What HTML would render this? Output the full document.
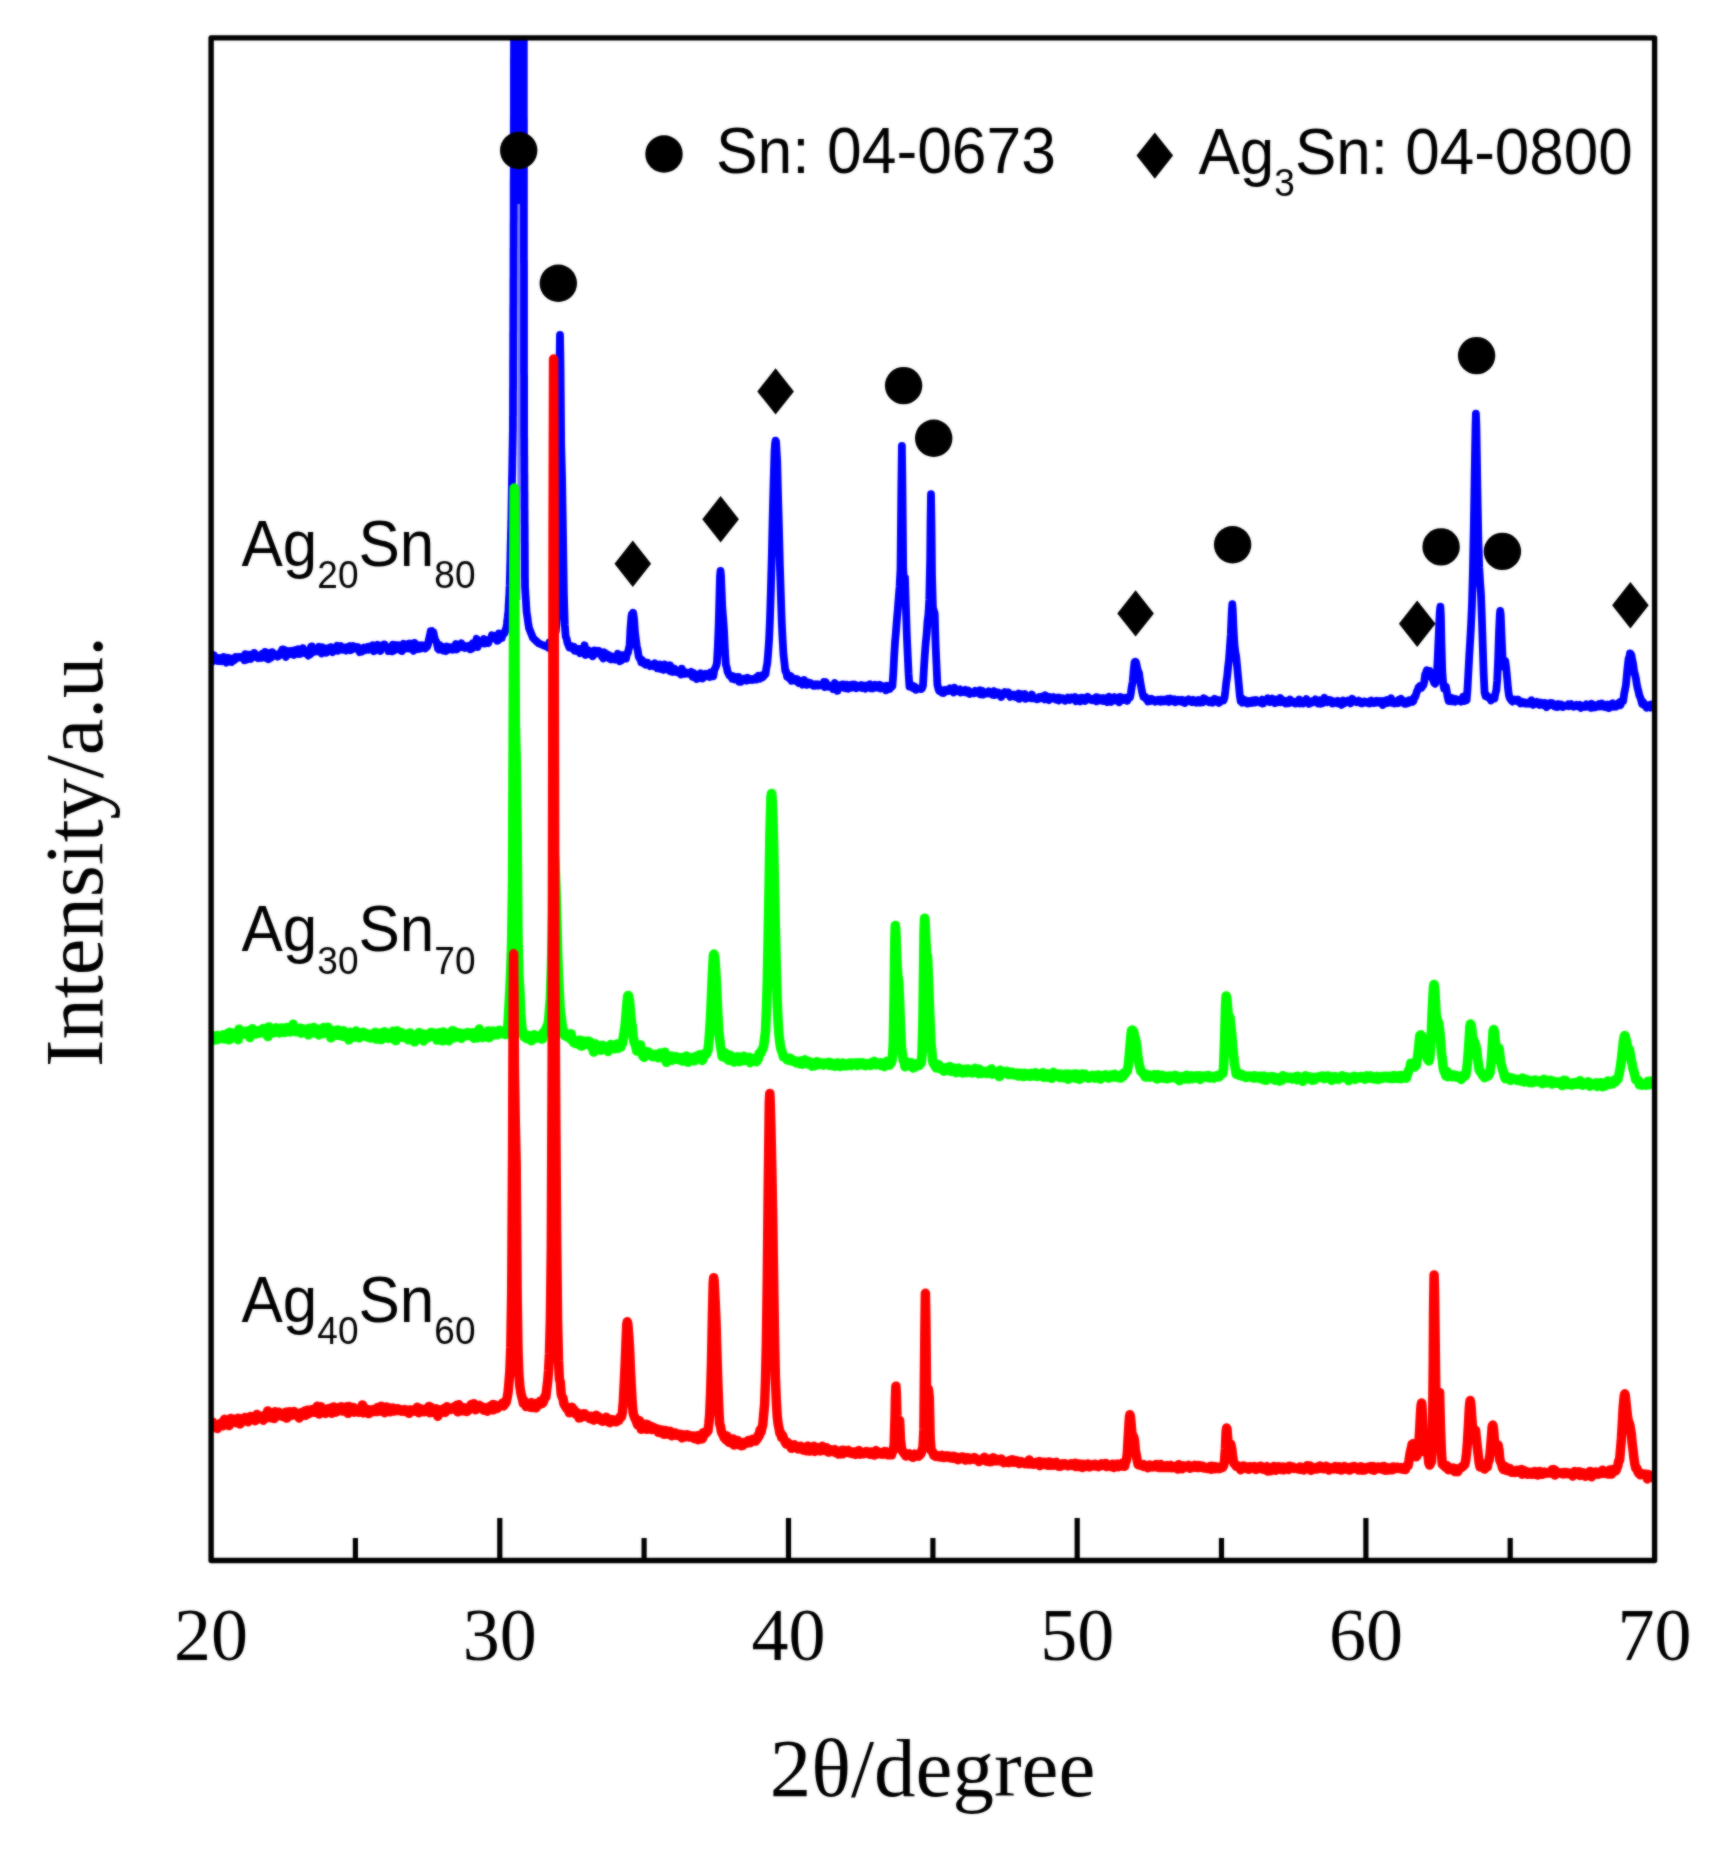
<!DOCTYPE html>
<html lang="en"><head><meta charset="utf-8"><title>XRD patterns of Ag-Sn alloys</title>
<style>html,body{margin:0;padding:0;background:#fff}body{width:1732px;height:1859px;overflow:hidden}svg{display:block}</style></head>
<body>
<svg width="1732" height="1859" viewBox="0 0 1732 1859" role="img" aria-label="XRD patterns">
<defs><clipPath id="plotclip"><rect x="211.1" y="37.9" width="1443.5" height="1522.6"/></clipPath></defs>
<defs><filter id="soft" x="0" y="0" width="1732" height="1859" filterUnits="userSpaceOnUse" color-interpolation-filters="sRGB"><feGaussianBlur stdDeviation="1" result="b"/><feComposite in="SourceGraphic" in2="b" operator="arithmetic" k1="0" k2="0.45" k3="0.55" k4="0"/></filter></defs>
<rect x="0" y="0" width="1732" height="1859" fill="#ffffff"/>
<g filter="url(#soft)">
<rect x="0" y="0" width="1732" height="1859" fill="#ffffff"/>
<g clip-path="url(#plotclip)" fill="none" stroke-linejoin="round" stroke-linecap="butt">
<path stroke="#7a7aff" stroke-width="3" d="M518.9 195V600"/>
<path stroke="#0000ff" stroke-width="7.8" d="M211.1 664.3L212.0 660.0L212.9 659.6L213.8 655.0L214.7 660.4L215.6 659.7L216.5 659.2L217.4 660.9L218.3 661.1L219.2 657.9L220.1 658.2L221.0 659.0L221.9 661.3L222.8 660.9L223.7 657.0L224.6 657.3L225.5 661.0L226.4 662.6L227.3 659.2L228.2 657.8L229.1 661.3L230.0 658.3L230.9 660.4L231.8 662.0L232.7 660.0L233.6 658.7L234.5 660.0L235.4 657.1L236.3 657.9L237.2 657.0L238.1 657.7L239.0 657.0L239.9 657.5L240.8 657.0L241.7 657.9L242.6 657.7L243.5 658.1L244.4 660.3L245.3 654.1L246.2 659.9L247.1 656.6L248.0 654.5L248.9 656.6L249.8 657.0L250.7 658.9L251.6 654.4L252.5 657.0L253.4 656.7L254.3 652.9L255.2 653.8L256.1 657.4L257.0 657.5L257.9 658.2L258.8 656.9L259.7 656.6L260.6 655.9L261.5 658.0L262.4 653.7L263.3 655.1L264.2 656.0L265.1 651.9L266.0 657.8L266.9 653.3L267.8 654.7L268.7 659.2L269.6 653.0L270.5 653.5L271.4 657.7L272.3 652.2L273.2 653.4L274.1 655.3L275.0 655.1L275.9 655.3L276.8 654.7L277.7 656.6L278.6 655.9L279.5 654.9L280.4 652.2L281.3 652.0L282.2 649.5L283.1 654.7L284.0 649.5L284.9 655.0L285.8 656.9L286.7 650.8L287.6 651.5L288.5 651.8L289.4 654.4L290.3 650.9L291.2 652.3L292.1 651.4L293.0 651.9L293.9 655.0L294.8 650.2L295.7 652.3L296.6 652.6L297.5 653.7L298.4 649.3L299.3 654.1L300.2 652.6L301.1 653.4L302.0 651.7L302.9 648.1L303.8 650.0L304.7 653.0L305.6 651.3L306.5 651.0L307.4 654.7L308.3 655.5L309.2 650.8L310.1 654.8L311.0 646.6L311.9 646.4L312.8 652.3L313.7 649.9L314.6 651.6L315.5 651.3L316.4 650.0L317.3 651.5L318.2 650.3L319.1 646.8L320.0 650.3L320.9 650.2L321.8 653.5L322.7 647.3L323.6 649.6L324.5 648.6L325.4 649.2L326.3 652.8L327.2 650.1L328.1 648.3L329.0 649.5L329.9 650.8L330.8 647.1L331.7 648.5L332.6 652.2L333.5 650.8L334.4 648.9L335.3 647.9L336.2 648.6L337.1 645.7L338.0 650.8L338.9 649.5L339.8 649.1L340.7 646.1L341.6 647.3L342.5 649.8L343.4 649.3L344.3 647.7L345.2 649.7L346.1 650.6L347.0 647.3L347.9 647.5L348.8 646.8L349.7 646.2L350.6 650.2L351.5 649.6L352.4 649.3L353.3 646.1L354.2 646.4L355.1 648.4L356.0 647.6L356.9 648.7L357.8 647.0L358.7 649.8L359.6 652.1L360.5 651.6L361.4 651.7L362.3 648.5L363.2 650.3L364.1 647.6L365.0 650.2L365.9 647.5L366.8 647.3L367.7 646.9L368.6 649.7L369.5 648.8L370.4 648.6L371.3 645.9L372.2 648.5L373.1 645.2L374.0 651.2L374.9 647.9L375.8 648.5L376.7 647.9L377.6 644.8L378.5 645.3L379.4 648.0L380.3 651.1L381.2 645.7L382.1 646.6L383.0 647.9L383.9 644.5L384.8 644.5L385.7 647.1L386.6 647.9L387.5 647.2L388.4 651.1L389.3 647.6L390.2 648.7L391.1 651.2L392.0 651.4L392.9 644.6L393.8 647.1L394.7 650.3L395.6 645.0L396.5 646.0L397.4 645.2L398.3 645.1L399.2 645.5L400.1 648.2L401.0 650.5L401.9 651.0L402.8 647.8L403.7 643.7L404.6 647.7L405.5 647.1L406.4 648.5L407.3 647.5L408.2 644.1L409.1 648.6L410.0 643.5L410.9 646.3L411.8 648.4L412.7 648.4L413.6 650.9L414.5 642.8L415.4 648.3L416.3 649.0L417.2 646.9L418.1 648.9L419.0 645.2L419.9 648.8L420.8 648.5L421.7 645.3L422.6 645.9L423.5 646.7L424.4 645.5L425.3 648.5L426.2 645.9L427.1 646.9L428.0 644.5L428.9 639.4L429.8 635.7L430.7 631.3L431.4 631.5L431.9 631.2L432.3 631.9L433.4 632.1L434.3 636.9L435.2 640.1L436.1 641.3L437.0 643.8L437.9 648.5L438.8 649.6L439.7 645.1L440.6 646.6L441.5 646.4L442.4 646.7L443.3 650.5L444.2 648.8L445.1 650.0L446.0 651.1L446.9 646.5L447.8 647.0L448.7 647.5L449.6 649.5L450.5 647.2L451.4 648.7L452.3 649.8L453.2 649.7L454.1 648.2L455.0 645.6L455.9 644.0L456.8 649.5L457.7 648.0L458.6 645.1L459.5 645.9L460.4 645.9L461.3 643.3L462.2 647.2L463.1 645.0L464.0 645.9L464.9 647.9L465.8 646.1L466.7 647.3L467.6 646.9L468.5 645.9L469.4 645.8L470.3 649.4L471.2 645.0L472.1 648.6L473.0 643.1L473.9 646.3L474.8 644.9L475.7 642.9L476.6 638.7L477.5 647.2L478.4 641.3L479.3 641.5L480.2 643.5L481.1 643.1L482.0 643.3L482.9 641.9L483.8 639.0L484.7 643.6L485.6 639.7L486.5 641.7L487.4 642.1L488.3 643.0L489.2 639.8L490.1 639.2L491.0 639.0L491.9 635.3L492.8 637.3L493.7 636.5L494.6 635.9L495.5 638.3L496.4 637.1L497.3 640.8L498.2 640.4L499.1 633.3L500.0 637.3L500.9 634.9L501.8 638.0L502.0 636.0L504.5 633.0L505.5 630.0L506.5 627.0L506.9 624.0L507.2 621.0L507.6 618.0L507.9 615.0L508.3 612.0L508.5 608.8L508.6 605.5L508.8 602.2L509.0 599.0L509.2 595.8L509.4 592.5L509.5 589.2L509.7 586.0L509.8 583.0L509.8 580.0L509.9 577.0L510.0 574.0L510.1 571.0L510.1 568.0L510.2 565.0L510.3 562.0L510.4 559.0L510.4 556.0L510.5 553.0L510.6 550.0L510.6 547.0L510.7 544.0L510.8 541.0L510.9 538.0L510.9 535.0L511.0 532.0L511.1 529.0L511.2 526.0L511.2 523.0L511.3 520.0L511.4 517.0L511.4 514.0L511.5 511.0L511.5 508.0L511.6 505.0L511.6 502.0L511.7 499.0L511.7 496.0L511.8 493.0L511.8 490.0L511.9 487.0L511.9 484.0L512.0 481.0L512.0 478.0L512.1 475.0L512.2 472.0L512.2 469.0L512.3 466.0L512.3 463.0L512.4 460.0L512.4 457.0L512.5 454.0L512.5 451.0L512.6 448.0L512.6 445.0L512.7 442.0L512.7 439.0L512.8 436.0L512.8 433.0L512.9 430.0L512.9 427.0L512.9 424.0L512.9 421.0L512.9 418.0L513.0 415.0L513.0 412.0L513.0 409.0L513.0 406.0L513.0 403.0L513.0 400.0L513.0 397.0L513.0 394.0L513.0 391.0L513.1 388.0L513.1 385.0L513.1 382.0L513.1 379.0L513.1 376.0L513.1 373.0L513.1 370.0L513.1 367.0L513.1 364.0L513.1 361.0L513.2 358.0L513.2 355.0L513.2 352.0L513.2 349.0L513.2 346.0L513.2 343.0L513.2 340.0L513.2 337.0L513.2 334.0L513.3 331.0L513.3 328.0L513.3 325.0L513.3 322.0L513.3 319.0L513.3 316.0L513.3 313.0L513.3 310.0L513.3 307.0L513.4 304.0L513.4 301.0L513.4 298.0L513.4 295.0L513.4 292.0L513.4 289.0L513.4 286.0L513.4 283.0L513.4 280.0L513.5 277.0L513.5 274.0L513.5 271.0L513.5 268.0L513.5 265.0L513.5 262.0L513.5 259.0L513.5 256.0L513.5 253.0L513.5 250.0L513.6 247.0L513.6 244.0L513.6 241.0L513.6 238.0L513.6 235.0L513.6 232.0L513.6 229.0L513.6 226.0L513.6 223.0L513.7 220.0L513.7 217.0L513.7 214.0L513.7 211.0L513.7 208.0L513.7 205.0L513.7 202.0L513.7 198.9L513.7 195.9L513.7 192.9L513.7 189.9L513.7 186.9L513.7 183.9L513.7 180.8L513.8 177.8L513.8 174.8L513.8 171.8L513.8 168.8L513.8 165.8L513.8 162.7L513.8 159.7L513.8 156.7L513.8 153.7L513.8 150.7L513.8 147.7L513.8 144.6L513.8 141.6L513.8 138.6L513.8 135.6L513.8 132.6L513.8 129.6L513.8 126.5L513.8 123.5L513.8 120.5L513.9 117.5L513.9 114.5L513.9 111.5L513.9 108.4L513.9 105.4L513.9 102.4L513.9 99.4L513.9 96.4L513.9 93.4L513.9 90.3L513.9 87.3L513.9 84.3L513.9 81.3L513.9 78.3L513.9 75.3L513.9 72.2L513.9 69.2L513.9 66.2L513.9 63.2L513.9 60.2L514.0 57.2L514.0 54.1L514.0 51.1L514.0 48.1L514.0 45.1L514.0 42.1L514.0 39.1L514.0 36.0L514.0 33.0L514.0 30.0L514.0 27.0L514.1 24.0L514.1 21.0L514.2 18.0L514.2 15.0L514.3 12.0L514.4 9.0L514.4 6.0L514.5 3.0L514.5 0.0L514.5 -3.0L514.6 -6.0L514.6 -9.0L514.7 -12.0L514.8 -15.0L514.8 -18.0L514.9 -21.0L514.9 -24.0L515.0 -27.0L515.0 -30.0L519.2 -30.0L519.2 -27.0L519.2 -23.9L519.2 -20.9L519.2 -17.9L519.2 -14.9L519.2 -11.8L519.2 -8.8L519.2 -5.8L519.2 -2.8L519.2 0.3L519.2 3.3L519.2 6.3L519.2 9.3L519.2 12.4L519.2 15.4L519.2 18.4L519.2 21.4L519.2 24.5L519.2 27.5L519.2 30.5L519.2 33.6L519.2 36.6L519.2 39.6L519.2 42.6L519.2 45.7L519.2 48.7L519.2 51.7L519.2 54.7L519.2 57.8L519.2 60.8L519.2 63.8L519.2 66.8L519.2 69.9L519.2 72.9L519.2 75.9L519.2 78.9L519.2 82.0L519.2 85.0L519.2 88.0L519.2 91.1L519.2 94.1L519.2 97.1L519.2 100.1L519.2 103.2L519.2 106.2L519.2 109.2L519.2 112.2L519.2 115.3L519.2 118.3L519.2 121.3L519.2 124.3L519.2 127.4L519.2 130.4L519.2 133.4L519.2 136.4L519.2 139.5L519.2 142.5L519.2 145.5L519.2 148.6L519.2 151.6L519.2 154.6L519.2 157.6L519.2 160.7L519.2 163.7L519.2 166.7L519.2 169.7L519.2 172.8L519.2 175.8L519.2 178.8L519.2 181.8L519.2 184.9L519.2 187.9L519.2 190.9L519.2 193.9L519.2 197.0L519.2 200.0L519.2 197.0L519.2 193.9L519.2 190.9L519.2 187.9L519.2 184.9L519.2 181.8L519.2 178.8L519.2 175.8L519.2 172.8L519.2 169.7L519.2 166.7L519.2 163.7L519.2 160.7L519.2 157.6L519.2 154.6L519.2 151.6L519.2 148.6L519.2 145.5L519.2 142.5L519.2 139.5L519.2 136.4L519.2 133.4L519.2 130.4L519.2 127.4L519.2 124.3L519.2 121.3L519.2 118.3L519.2 115.3L519.2 112.2L519.2 109.2L519.2 106.2L519.2 103.2L519.2 100.1L519.2 97.1L519.2 94.1L519.2 91.1L519.2 88.0L519.2 85.0L519.2 82.0L519.2 78.9L519.2 75.9L519.2 72.9L519.2 69.9L519.2 66.8L519.2 63.8L519.2 60.8L519.2 57.8L519.2 54.7L519.2 51.7L519.2 48.7L519.2 45.7L519.2 42.6L519.2 39.6L519.2 36.6L519.2 33.6L519.2 30.5L519.2 27.5L519.2 24.5L519.2 21.4L519.2 18.4L519.2 15.4L519.2 12.4L519.2 9.3L519.2 6.3L519.2 3.3L519.2 0.3L519.2 -2.8L519.2 -5.8L519.2 -8.8L519.2 -11.8L519.2 -14.9L519.2 -17.9L519.2 -20.9L519.2 -23.9L519.2 -27.0L519.2 -30.0L523.0 -30.0L523.0 -27.0L523.1 -24.0L523.1 -21.0L523.2 -18.0L523.2 -15.0L523.2 -12.0L523.3 -9.0L523.3 -6.0L523.4 -3.0L523.4 0.0L523.4 3.0L523.5 6.0L523.5 9.0L523.6 12.0L523.6 15.0L523.6 18.0L523.7 21.0L523.7 24.0L523.8 27.0L523.8 30.0L523.8 33.0L523.8 36.0L523.8 39.1L523.8 42.1L523.8 45.1L523.8 48.1L523.8 51.1L523.8 54.1L523.8 57.2L523.8 60.2L523.8 63.2L523.8 66.2L523.8 69.2L523.8 72.2L523.8 75.3L523.8 78.3L523.8 81.3L523.8 84.3L523.8 87.3L523.8 90.3L523.8 93.4L523.8 96.4L523.8 99.4L523.8 102.4L523.8 105.4L523.8 108.4L523.8 111.5L523.8 114.5L523.8 117.5L523.9 120.5L523.9 123.5L523.9 126.5L523.9 129.6L523.9 132.6L523.9 135.6L523.9 138.6L523.9 141.6L523.9 144.6L523.9 147.7L523.9 150.7L523.9 153.7L523.9 156.7L523.9 159.7L523.9 162.7L523.9 165.8L523.9 168.8L523.9 171.8L523.9 174.8L523.9 177.8L523.9 180.8L523.9 183.9L523.9 186.9L523.9 189.9L523.9 192.9L523.9 195.9L523.9 198.9L523.9 202.0L523.9 205.0L523.9 208.0L523.9 211.0L523.9 214.0L523.9 217.0L523.9 220.0L523.9 223.0L523.9 226.0L523.9 229.0L523.9 232.0L523.9 235.0L523.9 238.0L523.9 241.0L523.9 244.0L523.9 247.0L523.9 250.0L523.9 253.0L523.9 256.0L523.9 259.0L523.9 262.0L524.0 265.0L524.0 268.0L524.0 271.0L524.0 274.0L524.0 277.0L524.0 280.0L524.0 283.0L524.0 286.0L524.0 289.0L524.0 292.0L524.0 295.0L524.0 298.0L524.0 301.0L524.0 304.0L524.0 307.0L524.0 310.0L524.0 313.0L524.0 316.0L524.0 319.0L524.0 322.0L524.0 325.0L524.0 328.0L524.0 331.0L524.0 334.0L524.0 337.0L524.0 340.0L524.0 343.0L524.0 346.0L524.0 349.0L524.0 352.0L524.0 355.0L524.0 358.0L524.0 361.0L524.0 364.0L524.0 367.0L524.0 370.0L524.0 373.0L524.1 376.0L524.1 379.0L524.1 382.0L524.1 385.0L524.1 388.0L524.1 391.0L524.1 394.0L524.1 397.0L524.1 400.0L524.1 403.0L524.1 406.0L524.1 409.0L524.1 412.0L524.1 415.0L524.1 418.0L524.1 421.0L524.1 424.0L524.1 427.0L524.1 430.0L524.1 433.0L524.1 436.0L524.2 439.0L524.2 442.0L524.2 445.0L524.2 448.0L524.2 451.0L524.2 454.0L524.3 457.0L524.3 460.0L524.3 463.0L524.3 466.0L524.3 469.0L524.3 472.0L524.4 475.0L524.4 478.0L524.4 481.0L524.4 484.0L524.4 487.0L524.4 490.0L524.5 493.0L524.5 496.0L524.5 499.0L524.5 502.0L524.5 505.0L524.5 508.0L524.6 511.0L524.6 514.0L524.6 517.0L524.6 520.0L524.6 523.0L524.7 526.0L524.7 529.0L524.7 532.0L524.7 535.0L524.7 538.0L524.7 541.0L524.8 544.0L524.8 547.0L524.8 550.0L524.8 553.0L524.8 556.0L524.8 559.0L524.9 562.0L524.9 565.0L524.9 568.0L524.9 571.0L524.9 574.0L524.9 577.0L525.0 580.0L525.0 583.0L525.0 586.0L525.2 589.2L525.4 592.5L525.6 595.8L525.8 599.0L526.0 602.2L526.2 605.5L526.4 608.8L526.6 612.0L527.1 615.2L527.6 618.4L528.0 621.6L528.5 624.8L529.0 628.0L530.3 631.3L531.7 634.7L533.0 638.0L536.0 640.8L539.0 643.5L542.5 645.0L546.0 646.5L546.8 645.3L547.7 646.0L548.6 647.9L549.5 642.5L550.4 644.0L551.3 644.1L552.2 644.8L553.1 643.2L554.0 637.6L554.9 633.8L555.8 631.4L556.7 619.7L557.6 601.2L558.5 525.9L559.5 366.8L560.0 334.9L560.5 364.4L561.2 445.0L562.1 478.6L563.0 534.6L563.9 594.4L564.8 624.7L565.7 636.8L566.6 638.5L567.5 643.0L568.4 644.9L569.3 647.6L570.2 647.5L571.1 647.2L572.0 646.5L572.9 649.0L573.8 646.7L574.7 650.6L575.6 649.7L576.5 651.0L577.4 649.2L578.3 648.9L579.2 649.0L580.1 653.2L581.0 650.8L581.9 651.0L582.8 648.2L583.7 651.8L584.6 645.3L585.5 655.0L586.4 652.0L587.3 652.7L588.2 650.1L589.1 650.9L590.0 654.4L590.9 653.0L591.8 654.4L592.7 656.3L593.6 655.2L594.5 650.4L595.4 652.3L596.3 652.2L597.2 652.8L598.1 650.7L599.0 650.9L599.9 653.6L600.8 654.1L601.7 656.4L602.6 654.9L603.5 658.5L604.4 652.3L605.3 653.3L606.2 656.7L607.1 655.8L608.0 654.6L608.9 658.1L609.8 658.9L610.7 659.4L611.6 656.3L612.5 657.2L613.4 657.8L614.3 657.6L615.2 659.6L616.1 656.8L617.0 658.6L617.9 653.8L618.8 659.5L619.7 661.3L620.6 658.2L621.5 660.3L622.4 655.2L623.3 657.6L624.2 655.2L625.1 658.6L626.0 658.6L626.9 654.2L627.8 653.1L628.7 649.0L629.6 645.7L630.5 628.0L631.4 616.7L631.9 614.0L632.4 613.6L632.9 614.0L633.2 612.7L634.1 619.1L635.0 632.6L635.9 639.6L636.8 646.3L637.7 650.1L638.6 656.1L639.5 658.5L640.4 658.6L641.3 662.3L642.2 660.1L643.1 661.4L644.0 663.6L644.9 662.9L645.8 664.8L646.7 662.7L647.6 662.6L648.5 664.5L649.4 664.3L650.3 666.3L651.2 665.2L652.1 664.6L653.0 665.7L653.9 666.3L654.8 663.3L655.7 665.4L656.6 665.2L657.5 668.3L658.4 665.5L659.3 668.5L660.2 664.5L661.1 667.0L662.0 669.2L662.9 667.1L663.8 669.9L664.7 664.4L665.6 668.3L666.5 668.8L667.4 668.5L668.3 666.3L669.2 670.4L670.1 665.3L671.0 671.4L671.9 670.5L672.8 671.9L673.7 669.9L674.6 668.6L675.5 669.9L676.4 670.2L677.3 672.3L678.2 670.9L679.1 672.4L680.0 672.7L680.9 674.5L681.8 668.7L682.7 671.7L683.6 673.8L684.5 674.0L685.4 672.0L686.3 672.7L687.2 673.1L688.1 673.7L689.0 672.6L689.9 672.7L690.8 672.0L691.7 673.4L692.6 676.7L693.5 672.8L694.4 676.2L695.3 678.0L696.2 675.1L697.1 679.0L698.0 674.8L698.9 678.0L699.8 675.1L700.7 673.2L701.6 675.9L702.5 678.6L703.4 674.4L704.3 676.2L705.2 673.7L706.1 673.9L707.0 676.1L707.9 674.9L708.8 676.0L709.7 676.9L710.6 672.4L711.5 672.8L712.4 673.4L713.3 676.3L714.2 670.5L715.1 668.2L716.0 666.4L716.9 663.2L717.8 646.8L718.7 624.6L719.6 591.2L720.0 576.3L720.5 570.9L721.0 575.7L721.4 585.7L722.3 607.7L723.2 618.4L724.1 631.7L725.0 651.8L725.9 664.8L726.8 667.7L727.7 672.3L728.6 673.6L729.5 675.6L730.4 676.2L731.3 676.5L732.2 678.7L733.1 676.1L734.0 677.6L734.9 679.5L735.8 677.0L736.7 677.5L737.6 677.1L738.5 676.9L739.4 681.8L740.3 679.4L741.2 681.8L742.1 680.1L743.0 679.1L743.9 678.6L744.8 679.5L745.7 679.0L746.6 680.6L747.5 677.8L748.4 679.5L749.3 679.9L750.2 678.8L751.1 678.8L752.0 680.0L752.9 679.9L753.8 678.8L754.7 678.8L755.6 677.9L756.5 679.5L757.4 678.2L758.3 675.7L759.2 677.4L760.1 678.6L761.0 677.7L761.9 675.3L762.8 677.2L763.7 676.2L764.6 674.8L765.5 674.2L766.4 667.8L767.3 663.4L768.2 652.5L769.1 639.8L770.0 618.9L770.9 589.7L771.8 555.8L772.7 515.7L773.6 482.0L774.5 451.6L775.1 443.1L775.6 440.6L776.1 441.9L777.2 461.2L778.1 497.2L779.0 528.7L779.9 565.6L780.8 593.8L781.7 621.2L782.6 639.2L783.5 654.7L784.4 662.4L785.3 671.0L786.2 671.3L787.1 676.7L788.0 676.3L788.9 678.1L789.8 675.7L790.7 676.1L791.6 680.8L792.5 677.8L793.4 679.5L794.3 679.9L795.2 679.3L796.1 681.2L797.0 679.1L797.9 679.7L798.8 683.0L799.7 680.6L800.6 683.1L801.5 683.2L802.4 684.6L803.3 683.2L804.2 680.0L805.1 681.9L806.0 682.4L806.9 684.9L807.8 683.8L808.7 682.7L809.6 684.2L810.5 683.1L811.4 684.6L812.3 684.1L813.2 685.6L814.1 684.6L815.0 685.7L815.9 684.3L816.8 685.5L817.7 684.3L818.6 685.6L819.5 685.1L820.4 684.7L821.3 684.3L822.2 684.6L823.1 685.8L824.0 682.0L824.9 687.1L825.8 682.0L826.7 685.2L827.6 685.1L828.5 686.7L829.4 686.0L830.3 685.7L831.2 685.9L832.1 687.2L833.0 689.2L833.9 686.5L834.8 683.1L835.7 685.5L836.6 686.7L837.5 690.8L838.4 685.1L839.3 685.7L840.2 687.0L841.1 686.7L842.0 684.5L842.9 687.6L843.8 684.5L844.7 686.0L845.6 688.2L846.5 684.6L847.4 685.9L848.3 688.7L849.2 686.1L850.1 685.0L851.0 685.7L851.9 687.6L852.8 684.4L853.7 685.6L854.6 684.5L855.5 685.0L856.4 688.3L857.3 686.4L858.2 686.0L859.1 687.1L860.0 685.6L860.9 685.0L861.8 688.1L862.7 687.8L863.6 685.5L864.5 687.6L865.4 688.6L866.3 687.3L867.2 687.3L868.1 685.0L869.0 686.5L869.9 684.2L870.8 688.2L871.7 686.5L872.6 688.5L873.5 685.7L874.4 687.9L875.3 684.7L876.2 686.2L877.1 687.5L878.0 687.2L878.9 686.7L879.8 684.7L880.7 688.5L881.6 687.7L882.5 688.3L883.4 688.3L884.3 686.4L885.2 687.4L886.1 690.3L887.0 685.8L887.9 687.4L888.8 686.2L889.7 689.1L890.6 687.1L891.5 685.6L892.4 686.1L893.3 673.4L894.2 655.7L895.1 641.3L896.0 631.4L896.9 619.2L897.8 609.6L898.7 597.3L899.6 586.8L900.5 569.2L901.4 483.1L901.9 446.0L902.4 483.7L903.2 568.2L904.1 584.5L905.0 577.5L905.9 606.4L906.8 634.7L907.7 654.8L908.6 673.9L909.5 686.7L910.4 686.8L911.3 685.4L912.2 685.5L913.1 688.2L914.0 688.4L914.9 686.7L915.8 689.8L916.7 689.1L917.6 688.5L918.5 688.7L919.4 688.4L920.3 689.0L921.2 689.2L922.1 688.2L923.0 685.5L923.9 669.0L924.8 655.1L925.7 643.2L926.6 634.7L927.5 621.4L928.4 614.4L929.3 599.7L930.2 556.9L930.5 524.2L931.0 494.2L931.5 524.0L932.0 574.2L932.9 607.6L933.8 610.8L934.7 613.5L935.6 644.7L936.5 664.8L937.4 684.5L938.3 688.4L939.2 691.1L940.1 689.9L941.0 690.4L941.9 692.6L942.8 690.2L943.7 693.1L944.6 690.2L945.5 689.7L946.4 690.1L947.3 691.2L948.2 691.0L949.1 690.7L950.0 688.4L950.9 689.0L951.8 690.1L952.7 691.5L953.6 692.4L954.5 687.6L955.4 690.6L956.3 690.2L957.2 690.8L958.1 691.3L959.0 690.0L959.9 689.4L960.8 692.5L961.7 692.3L962.6 690.8L963.5 691.3L964.4 690.6L965.3 689.8L966.2 692.5L967.1 690.9L968.0 690.4L968.9 691.1L969.8 694.1L970.7 692.6L971.6 692.4L972.5 692.3L973.4 693.4L974.3 693.3L975.2 690.8L976.1 692.2L977.0 691.7L977.9 692.9L978.8 692.6L979.7 690.2L980.6 694.3L981.5 693.3L982.4 690.8L983.3 694.6L984.2 693.3L985.1 693.8L986.0 693.4L986.9 693.6L987.8 692.8L988.7 691.4L989.6 692.8L990.5 693.9L991.4 693.8L992.3 694.7L993.2 693.8L994.1 691.1L995.0 695.0L995.9 693.1L996.8 692.5L997.7 693.8L998.6 692.6L999.5 694.9L1000.4 693.3L1001.3 697.0L1002.2 694.3L1003.1 694.0L1004.0 693.9L1004.9 692.1L1005.8 693.8L1006.7 694.0L1007.6 694.6L1008.5 692.3L1009.4 695.2L1010.3 696.9L1011.2 694.8L1012.1 695.3L1013.0 696.0L1013.9 694.5L1014.8 695.1L1015.7 696.9L1016.6 696.0L1017.5 694.3L1018.4 693.6L1019.3 698.9L1020.2 696.6L1021.1 694.1L1022.0 696.4L1022.9 697.1L1023.8 696.5L1024.7 694.0L1025.6 698.8L1026.5 697.3L1027.4 696.4L1028.3 697.6L1029.2 696.5L1030.1 696.4L1031.0 698.1L1031.9 694.5L1032.8 698.3L1033.7 697.6L1034.6 698.2L1035.5 698.4L1036.4 699.3L1037.3 699.3L1038.2 698.6L1039.1 697.1L1040.0 698.5L1040.9 697.1L1041.8 696.5L1042.7 698.4L1043.6 698.3L1044.5 699.4L1045.4 695.2L1046.3 698.8L1047.2 698.9L1048.1 698.3L1049.0 700.1L1049.9 697.1L1050.8 698.7L1051.7 697.8L1052.6 698.3L1053.5 697.1L1054.4 698.2L1055.3 699.3L1056.2 698.6L1057.1 698.9L1058.0 697.5L1058.9 700.5L1059.8 697.7L1060.7 698.6L1061.6 699.3L1062.5 698.4L1063.4 699.6L1064.3 698.9L1065.2 700.8L1066.1 699.4L1067.0 699.2L1067.9 697.7L1068.8 699.3L1069.7 700.0L1070.6 699.3L1071.5 697.6L1072.4 698.1L1073.3 698.5L1074.2 698.9L1075.1 697.1L1076.0 701.3L1076.9 698.8L1077.8 699.1L1078.7 698.4L1079.6 698.9L1080.5 701.4L1081.4 697.8L1082.3 698.3L1083.2 697.7L1084.1 698.3L1085.0 701.0L1085.9 698.3L1086.8 698.5L1087.7 696.8L1088.6 698.7L1089.5 699.4L1090.4 698.5L1091.3 698.7L1092.2 700.2L1093.1 699.9L1094.0 699.1L1094.9 698.2L1095.8 697.4L1096.7 701.4L1097.6 697.3L1098.5 700.1L1099.4 699.1L1100.3 698.4L1101.2 700.5L1102.1 698.4L1103.0 701.0L1103.9 698.1L1104.8 700.0L1105.7 701.0L1106.6 698.2L1107.5 702.1L1108.4 700.5L1109.3 696.7L1110.2 701.2L1111.1 701.9L1112.0 699.2L1112.9 699.2L1113.8 700.0L1114.7 697.1L1115.6 699.7L1116.5 700.7L1117.4 698.8L1118.3 700.9L1119.2 702.2L1120.1 697.0L1121.0 697.1L1121.9 698.5L1122.8 700.1L1123.7 699.7L1124.6 698.0L1125.5 697.6L1126.4 698.0L1127.3 700.9L1128.2 697.2L1129.1 697.0L1130.0 697.4L1130.9 692.9L1131.8 686.6L1132.7 681.6L1133.6 671.0L1134.5 662.4L1134.8 661.8L1135.3 661.6L1135.8 661.7L1136.3 663.6L1137.2 667.8L1138.1 671.7L1139.0 672.8L1139.9 679.7L1140.8 685.0L1141.7 689.9L1142.6 694.2L1143.5 697.1L1144.4 696.6L1145.3 696.8L1146.2 699.0L1147.1 698.3L1148.0 701.5L1148.9 699.9L1149.8 699.6L1150.7 700.9L1151.6 698.9L1152.5 699.4L1153.4 699.7L1154.3 700.8L1155.2 701.7L1156.1 701.1L1157.0 701.1L1157.9 699.9L1158.8 700.7L1159.7 699.9L1160.6 701.7L1161.5 699.5L1162.4 700.2L1163.3 700.7L1164.2 701.4L1165.1 699.5L1166.0 700.1L1166.9 699.4L1167.8 698.8L1168.7 701.9L1169.6 701.1L1170.5 698.6L1171.4 699.3L1172.3 701.3L1173.2 699.8L1174.1 699.3L1175.0 702.2L1175.9 700.0L1176.8 700.2L1177.7 701.4L1178.6 699.8L1179.5 700.7L1180.4 700.9L1181.3 701.7L1182.2 699.8L1183.1 702.1L1184.0 701.2L1184.9 703.0L1185.8 701.1L1186.7 700.1L1187.6 700.1L1188.5 699.4L1189.4 700.8L1190.3 700.8L1191.2 702.0L1192.1 701.0L1193.0 699.8L1193.9 702.2L1194.8 700.3L1195.7 701.2L1196.6 702.7L1197.5 702.5L1198.4 700.0L1199.3 700.8L1200.2 702.6L1201.1 702.2L1202.0 701.6L1202.9 702.1L1203.8 698.2L1204.7 700.6L1205.6 699.2L1206.5 700.2L1207.4 700.5L1208.3 701.6L1209.2 702.4L1210.1 702.0L1211.0 701.3L1211.9 700.5L1212.8 702.6L1213.7 701.3L1214.6 698.8L1215.5 700.9L1216.4 701.6L1217.3 699.8L1218.2 701.2L1219.1 702.9L1220.0 700.6L1220.9 700.9L1221.8 700.9L1222.7 699.7L1223.6 700.3L1224.5 697.7L1225.4 690.7L1226.3 682.1L1227.2 676.3L1228.1 666.8L1229.0 659.6L1229.9 647.2L1230.8 634.2L1231.8 610.8L1232.3 604.2L1232.8 610.7L1233.5 627.7L1234.4 644.0L1235.3 651.7L1236.2 656.5L1237.1 666.2L1238.0 675.9L1238.9 685.3L1239.8 695.6L1240.7 701.1L1241.6 698.0L1242.5 702.7L1243.4 701.2L1244.3 701.8L1245.2 700.1L1246.1 701.1L1247.0 703.5L1247.9 703.6L1248.8 702.0L1249.7 700.9L1250.6 701.1L1251.5 703.0L1252.4 700.4L1253.3 700.1L1254.2 701.2L1255.1 702.5L1256.0 700.0L1256.9 701.8L1257.8 701.8L1258.7 701.6L1259.6 701.2L1260.5 702.6L1261.4 702.1L1262.3 699.6L1263.2 703.5L1264.1 702.0L1265.0 701.8L1265.9 701.0L1266.8 701.1L1267.7 698.3L1268.6 701.2L1269.5 702.2L1270.4 702.2L1271.3 700.6L1272.2 698.5L1273.1 700.0L1274.0 701.1L1274.9 703.1L1275.8 699.5L1276.7 701.5L1277.6 702.3L1278.5 702.3L1279.4 701.4L1280.3 698.0L1281.2 702.3L1282.1 701.7L1283.0 702.2L1283.9 700.4L1284.8 701.0L1285.7 703.5L1286.6 701.5L1287.5 701.6L1288.4 700.7L1289.3 703.2L1290.2 699.5L1291.1 701.0L1292.0 702.2L1292.9 701.6L1293.8 702.8L1294.7 702.2L1295.6 703.5L1296.5 701.4L1297.4 701.5L1298.3 702.0L1299.2 699.4L1300.1 703.5L1301.0 700.6L1301.9 703.1L1302.8 703.5L1303.7 703.0L1304.6 702.0L1305.5 700.9L1306.4 699.0L1307.3 702.5L1308.2 701.5L1309.1 703.9L1310.0 701.4L1310.9 702.6L1311.8 701.3L1312.7 702.3L1313.6 701.3L1314.5 701.6L1315.4 699.4L1316.3 700.9L1317.2 701.6L1318.1 703.4L1319.0 702.2L1319.9 700.3L1320.8 703.8L1321.7 702.3L1322.6 703.2L1323.5 700.7L1324.4 697.7L1325.3 700.9L1326.2 700.5L1327.1 702.2L1328.0 699.9L1328.9 700.7L1329.8 700.1L1330.7 702.0L1331.6 700.7L1332.5 703.6L1333.4 702.9L1334.3 703.0L1335.2 701.6L1336.1 702.2L1337.0 703.0L1337.9 700.8L1338.8 703.5L1339.7 701.8L1340.6 703.5L1341.5 704.8L1342.4 703.9L1343.3 700.6L1344.2 703.5L1345.1 701.5L1346.0 701.4L1346.9 701.7L1347.8 700.5L1348.7 702.3L1349.6 701.1L1350.5 703.4L1351.4 702.4L1352.3 698.7L1353.2 700.7L1354.1 700.7L1355.0 701.1L1355.9 701.1L1356.8 702.2L1357.7 701.8L1358.6 700.6L1359.5 702.5L1360.4 703.1L1361.3 702.0L1362.2 703.5L1363.1 702.5L1364.0 701.3L1364.9 701.5L1365.8 702.0L1366.7 702.7L1367.6 702.2L1368.5 703.2L1369.4 703.5L1370.3 700.7L1371.2 700.5L1372.1 701.9L1373.0 702.6L1373.9 703.1L1374.8 702.8L1375.7 702.8L1376.6 700.8L1377.5 702.5L1378.4 701.2L1379.3 702.5L1380.2 703.1L1381.1 701.1L1382.0 701.6L1382.9 705.0L1383.8 701.0L1384.7 701.3L1385.6 700.5L1386.5 700.1L1387.4 703.1L1388.3 701.0L1389.2 701.0L1390.1 700.8L1391.0 698.2L1391.9 702.7L1392.8 701.0L1393.7 701.6L1394.6 703.4L1395.5 701.5L1396.4 701.8L1397.3 701.8L1398.2 703.2L1399.1 699.8L1400.0 700.8L1400.9 698.7L1401.8 701.5L1402.7 702.2L1403.6 700.8L1404.5 703.8L1405.4 702.5L1406.3 703.7L1407.2 701.3L1408.1 703.3L1409.0 700.3L1409.9 701.4L1410.8 700.8L1411.7 699.9L1412.6 702.0L1413.5 700.8L1414.4 697.0L1415.3 696.9L1416.2 693.7L1417.1 691.1L1418.0 689.4L1418.5 687.4L1419.0 687.1L1419.5 686.9L1419.8 686.1L1420.7 686.4L1421.6 687.7L1422.5 685.1L1423.4 685.2L1424.3 681.4L1425.2 674.2L1426.1 672.5L1426.8 670.3L1427.3 670.7L1427.8 670.9L1428.8 671.4L1429.7 671.0L1430.6 675.7L1431.5 677.4L1432.4 678.0L1433.3 680.5L1434.2 682.9L1435.1 683.8L1436.0 677.7L1436.9 674.3L1437.8 656.2L1438.7 636.3L1439.6 614.8L1440.0 609.8L1440.4 606.7L1440.9 615.4L1441.4 640.8L1442.3 671.8L1443.2 683.9L1444.1 688.4L1445.0 686.0L1445.9 686.7L1446.8 691.5L1447.7 697.4L1448.6 700.9L1449.5 700.1L1450.4 699.5L1451.3 701.2L1452.2 697.9L1453.1 700.5L1454.0 699.3L1454.9 701.8L1455.8 699.0L1456.7 701.0L1457.6 700.3L1458.5 700.0L1459.4 700.8L1460.3 699.7L1461.2 701.6L1462.1 699.4L1463.0 696.7L1463.9 701.1L1464.8 700.7L1465.7 699.4L1466.6 700.1L1467.5 689.1L1468.4 672.1L1469.3 655.2L1470.2 640.6L1471.1 624.2L1472.0 604.0L1472.9 571.2L1473.8 526.7L1474.7 472.2L1475.5 427.4L1475.9 413.7L1476.4 426.9L1477.4 489.1L1478.3 537.2L1479.2 567.2L1480.1 582.3L1481.0 594.6L1481.9 619.1L1482.8 647.2L1483.7 674.6L1484.6 692.8L1485.5 696.0L1486.4 695.1L1487.3 697.0L1488.2 697.3L1489.1 697.2L1490.0 698.1L1490.9 700.5L1491.8 699.3L1492.7 698.0L1493.6 697.9L1494.5 698.5L1495.4 693.3L1496.3 690.3L1497.2 680.5L1498.1 660.3L1499.0 632.9L1499.8 614.8L1500.2 610.9L1500.7 614.5L1501.7 638.3L1502.6 658.5L1503.5 666.5L1504.4 661.2L1505.3 661.2L1506.2 667.9L1507.1 677.5L1508.0 688.1L1508.9 695.3L1509.8 698.1L1510.7 699.3L1511.6 700.7L1512.5 701.6L1513.4 700.1L1514.3 699.4L1515.2 700.0L1516.1 700.5L1517.0 701.2L1517.9 699.5L1518.8 700.5L1519.7 701.3L1520.6 703.4L1521.5 702.5L1522.4 701.8L1523.3 703.1L1524.2 702.4L1525.1 702.5L1526.0 703.7L1526.9 702.8L1527.8 702.7L1528.7 703.5L1529.6 702.0L1530.5 702.8L1531.4 700.2L1532.3 702.4L1533.2 704.9L1534.1 702.6L1535.0 703.1L1535.9 702.7L1536.8 702.0L1537.7 704.0L1538.6 703.4L1539.5 704.9L1540.4 702.5L1541.3 703.7L1542.2 703.3L1543.1 703.1L1544.0 705.2L1544.9 703.0L1545.8 703.1L1546.7 707.2L1547.6 704.1L1548.5 704.0L1549.4 704.9L1550.3 703.1L1551.2 704.9L1552.1 703.0L1553.0 704.0L1553.9 703.9L1554.8 706.4L1555.7 705.6L1556.6 707.1L1557.5 707.0L1558.4 704.1L1559.3 705.7L1560.2 704.5L1561.1 704.4L1562.0 706.7L1562.9 707.1L1563.8 705.5L1564.7 705.8L1565.6 705.8L1566.5 705.9L1567.4 705.9L1568.3 704.3L1569.2 706.3L1570.1 704.7L1571.0 704.1L1571.9 705.5L1572.8 706.0L1573.7 706.8L1574.6 706.2L1575.5 706.1L1576.4 704.9L1577.3 706.3L1578.2 706.1L1579.1 706.2L1580.0 704.9L1580.9 708.0L1581.8 706.8L1582.7 706.7L1583.6 706.0L1584.5 705.5L1585.4 707.0L1586.3 704.2L1587.2 705.3L1588.1 705.5L1589.0 706.6L1589.9 705.5L1590.8 707.6L1591.7 703.7L1592.6 707.8L1593.5 706.3L1594.4 707.0L1595.3 705.2L1596.2 707.1L1597.1 705.4L1598.0 706.2L1598.9 704.0L1599.8 706.5L1600.7 706.0L1601.6 703.5L1602.5 705.7L1603.4 705.4L1604.3 706.8L1605.2 704.9L1606.1 706.0L1607.0 707.4L1607.9 704.6L1608.8 708.1L1609.7 706.0L1610.6 705.4L1611.5 703.9L1612.4 703.4L1613.3 706.7L1614.2 704.9L1615.1 704.6L1616.0 706.7L1616.9 706.1L1617.8 705.3L1618.7 703.1L1619.6 702.1L1620.5 705.2L1621.4 702.9L1622.3 701.0L1623.2 701.1L1624.1 694.2L1625.0 689.8L1625.9 685.3L1626.8 675.6L1627.7 666.1L1628.6 658.7L1629.5 656.5L1630.0 653.4L1630.4 653.6L1630.9 654.2L1631.3 654.8L1632.2 659.7L1633.1 663.6L1634.0 670.5L1634.9 674.1L1635.8 677.8L1636.7 683.9L1637.6 688.2L1638.5 691.4L1639.4 695.6L1640.3 697.4L1641.2 700.2L1642.1 703.8L1643.0 701.8L1643.9 705.3L1644.8 705.4L1645.7 705.0L1646.6 707.7L1647.5 707.0L1648.4 705.5L1649.3 706.6L1650.2 707.5L1651.1 704.5L1652.0 706.8L1652.9 706.2L1653.8 707.1"/>
<path stroke="#00ff00" stroke-width="9.6" d="M211.1 1038.3L212.0 1035.4L212.9 1040.6L213.8 1037.7L214.7 1037.1L215.6 1036.0L216.5 1039.8L217.4 1035.5L218.3 1039.0L219.2 1036.4L220.1 1037.5L221.0 1036.8L221.9 1038.4L222.8 1038.5L223.7 1034.7L224.6 1038.9L225.5 1038.1L226.4 1038.6L227.3 1039.3L228.2 1033.0L229.1 1039.7L230.0 1032.4L230.9 1034.3L231.8 1036.1L232.7 1037.5L233.6 1036.5L234.5 1035.8L235.4 1036.0L236.3 1032.5L237.2 1034.7L238.1 1039.6L239.0 1029.2L239.9 1033.7L240.8 1033.9L241.7 1032.2L242.6 1033.6L243.5 1034.0L244.4 1033.1L245.3 1033.4L246.2 1031.2L247.1 1034.6L248.0 1031.9L248.9 1030.8L249.8 1037.4L250.7 1031.8L251.6 1031.9L252.5 1028.8L253.4 1033.5L254.3 1030.4L255.2 1031.1L256.1 1033.9L257.0 1033.4L257.9 1030.7L258.8 1033.3L259.7 1033.0L260.6 1031.7L261.5 1029.9L262.4 1032.8L263.3 1028.6L264.2 1032.5L265.1 1031.6L266.0 1028.9L266.9 1029.2L267.8 1036.5L268.7 1027.0L269.6 1031.4L270.5 1030.5L271.4 1032.0L272.3 1031.7L273.2 1032.9L274.1 1032.4L275.0 1030.8L275.9 1027.9L276.8 1030.1L277.7 1031.7L278.6 1031.7L279.5 1032.9L280.4 1030.1L281.3 1028.0L282.2 1029.3L283.1 1030.9L284.0 1032.3L284.9 1032.4L285.8 1031.9L286.7 1027.6L287.6 1029.3L288.5 1031.3L289.4 1030.8L290.3 1031.9L291.2 1027.5L292.1 1031.3L293.0 1024.3L293.9 1029.0L294.8 1030.1L295.7 1029.3L296.6 1031.8L297.5 1029.5L298.4 1030.0L299.3 1031.4L300.2 1028.2L301.1 1033.1L302.0 1028.7L302.9 1031.3L303.8 1030.5L304.7 1029.2L305.6 1030.4L306.5 1030.8L307.4 1029.3L308.3 1034.8L309.2 1028.2L310.1 1030.4L311.0 1032.8L311.9 1031.6L312.8 1032.8L313.7 1027.5L314.6 1030.2L315.5 1030.9L316.4 1033.4L317.3 1029.2L318.2 1030.9L319.1 1034.9L320.0 1031.9L320.9 1032.1L321.8 1031.2L322.7 1033.8L323.6 1027.6L324.5 1029.8L325.4 1030.4L326.3 1031.9L327.2 1031.7L328.1 1027.4L329.0 1032.1L329.9 1030.2L330.8 1037.8L331.7 1031.5L332.6 1034.3L333.5 1031.1L334.4 1031.8L335.3 1030.6L336.2 1034.2L337.1 1035.2L338.0 1030.0L338.9 1033.7L339.8 1034.3L340.7 1035.6L341.6 1031.9L342.5 1036.2L343.4 1030.7L344.3 1033.8L345.2 1032.4L346.1 1032.9L347.0 1035.8L347.9 1034.7L348.8 1039.7L349.7 1033.6L350.6 1032.2L351.5 1036.3L352.4 1034.4L353.3 1033.0L354.2 1036.7L355.1 1037.1L356.0 1031.1L356.9 1033.4L357.8 1036.7L358.7 1032.7L359.6 1037.8L360.5 1034.1L361.4 1035.3L362.3 1034.8L363.2 1032.2L364.1 1034.2L365.0 1033.1L365.9 1033.8L366.8 1036.9L367.7 1036.1L368.6 1034.3L369.5 1035.4L370.4 1038.0L371.3 1034.8L372.2 1034.1L373.1 1036.5L374.0 1033.8L374.9 1032.5L375.8 1039.0L376.7 1032.8L377.6 1035.5L378.5 1036.1L379.4 1034.6L380.3 1039.3L381.2 1039.4L382.1 1036.3L383.0 1032.3L383.9 1036.3L384.8 1031.9L385.7 1036.8L386.6 1037.4L387.5 1036.3L388.4 1038.4L389.3 1036.2L390.2 1033.9L391.1 1034.9L392.0 1038.2L392.9 1031.3L393.8 1036.4L394.7 1033.1L395.6 1040.6L396.5 1032.6L397.4 1030.9L398.3 1037.7L399.2 1037.6L400.1 1034.2L401.0 1035.3L401.9 1032.8L402.8 1035.2L403.7 1037.4L404.6 1036.3L405.5 1035.5L406.4 1034.4L407.3 1038.1L408.2 1039.7L409.1 1038.9L410.0 1033.1L410.9 1036.4L411.8 1034.3L412.7 1035.3L413.6 1036.9L414.5 1041.8L415.4 1036.7L416.3 1036.1L417.2 1035.0L418.1 1037.3L419.0 1032.6L419.9 1037.6L420.8 1037.9L421.7 1034.0L422.6 1039.4L423.5 1040.9L424.4 1034.3L425.3 1037.7L426.2 1034.9L427.1 1034.5L428.0 1037.7L428.9 1036.6L429.8 1033.1L430.7 1032.6L431.6 1036.3L432.5 1032.8L433.4 1033.1L434.3 1035.2L435.2 1034.7L436.1 1036.6L437.0 1040.0L437.9 1033.0L438.8 1038.9L439.7 1032.7L440.6 1035.8L441.5 1038.0L442.4 1040.8L443.3 1032.0L444.2 1039.3L445.1 1035.4L446.0 1035.9L446.9 1036.8L447.8 1039.6L448.7 1040.8L449.6 1036.4L450.5 1034.2L451.4 1033.8L452.3 1030.7L453.2 1032.1L454.1 1037.7L455.0 1031.7L455.9 1032.7L456.8 1034.0L457.7 1033.7L458.6 1033.3L459.5 1033.0L460.4 1033.9L461.3 1038.3L462.2 1036.7L463.1 1035.4L464.0 1033.6L464.9 1035.4L465.8 1035.7L466.7 1033.2L467.6 1032.6L468.5 1035.5L469.4 1033.4L470.3 1033.3L471.2 1034.8L472.1 1034.7L473.0 1032.7L473.9 1038.2L474.8 1035.4L475.7 1034.4L476.6 1036.3L477.5 1037.7L478.4 1034.7L479.3 1029.1L480.2 1032.0L481.1 1034.4L482.0 1034.8L482.9 1037.5L483.8 1035.6L484.7 1033.9L485.6 1036.2L486.5 1033.0L487.4 1036.4L488.3 1031.0L489.2 1037.6L490.1 1033.9L491.0 1036.0L491.9 1033.7L492.8 1031.1L493.7 1033.6L494.6 1034.1L495.5 1034.5L496.4 1034.3L497.3 1034.8L498.2 1032.7L499.1 1030.3L500.0 1032.9L500.9 1030.9L501.8 1033.3L502.7 1033.1L503.6 1033.7L504.5 1032.3L505.4 1034.5L506.3 1034.1L507.2 1033.9L508.1 1023.5L509.0 1006.5L509.9 989.6L510.8 969.6L511.7 942.0L512.6 881.3L513.8 570.9L514.2 488.1L514.7 560.9L515.3 723.2L516.2 761.3L517.1 837.9L518.0 940.7L518.9 976.4L519.8 989.8L520.7 1012.5L521.6 1024.8L522.5 1032.7L523.4 1034.1L524.3 1037.0L525.2 1034.7L526.1 1034.7L527.0 1038.6L527.9 1036.7L528.8 1038.0L529.7 1039.3L530.6 1035.7L531.5 1040.8L532.4 1039.5L533.3 1035.3L534.2 1034.8L535.1 1037.7L536.0 1038.1L536.9 1035.7L537.8 1036.6L538.7 1036.4L539.6 1035.8L540.5 1037.0L541.4 1038.9L542.3 1039.0L543.2 1032.6L544.1 1033.1L545.0 1030.6L545.9 1029.9L546.8 1026.7L547.7 1026.9L548.6 1020.8L549.5 1009.1L550.4 999.0L551.3 971.4L552.2 937.8L553.1 894.1L553.9 860.2L554.4 855.6L554.9 859.9L555.8 886.0L556.7 915.2L557.6 952.3L558.5 978.0L559.4 995.5L560.3 1011.4L561.2 1017.7L562.1 1024.9L563.0 1029.1L563.9 1031.5L564.8 1035.8L565.7 1034.5L566.6 1036.4L567.5 1035.9L568.4 1034.2L569.3 1036.9L570.2 1038.9L571.1 1033.9L572.0 1040.3L572.9 1040.9L573.8 1042.8L574.7 1041.6L575.6 1043.5L576.5 1041.5L577.4 1040.9L578.3 1043.2L579.2 1040.2L580.1 1045.3L581.0 1040.5L581.9 1046.0L582.8 1042.1L583.7 1042.5L584.6 1041.6L585.5 1043.5L586.4 1044.3L587.3 1041.3L588.2 1041.0L589.1 1044.6L590.0 1041.9L590.9 1046.3L591.8 1047.6L592.7 1044.4L593.6 1052.0L594.5 1045.8L595.4 1043.9L596.3 1049.9L597.2 1047.3L598.1 1045.5L599.0 1046.7L599.9 1049.7L600.8 1050.3L601.7 1047.2L602.6 1045.3L603.5 1046.5L604.4 1049.1L605.3 1048.0L606.2 1048.7L607.1 1048.9L608.0 1051.4L608.9 1047.8L609.8 1048.2L610.7 1044.5L611.6 1048.3L612.5 1045.2L613.4 1047.2L614.3 1048.8L615.2 1047.4L616.1 1048.3L617.0 1044.0L617.9 1047.3L618.8 1048.0L619.7 1047.2L620.6 1047.1L621.5 1043.5L622.4 1043.8L623.3 1037.5L624.2 1031.9L625.1 1025.7L626.0 1015.7L626.9 1004.0L627.8 995.9L628.2 995.5L628.7 996.3L629.6 1002.0L630.5 1013.0L631.4 1022.0L632.3 1026.8L633.2 1037.1L634.1 1042.2L635.0 1043.9L635.9 1046.6L636.8 1051.0L637.7 1049.4L638.6 1050.2L639.5 1050.2L640.4 1045.1L641.3 1052.1L642.2 1053.9L643.1 1056.4L644.0 1057.2L644.9 1051.2L645.8 1053.3L646.7 1052.5L647.6 1054.3L648.5 1052.0L649.4 1054.7L650.3 1055.5L651.2 1055.7L652.1 1055.4L653.0 1056.8L653.9 1054.6L654.8 1054.4L655.7 1055.3L656.6 1055.0L657.5 1056.4L658.4 1057.8L659.3 1055.9L660.2 1053.1L661.1 1053.4L662.0 1057.3L662.9 1057.8L663.8 1057.8L664.7 1052.3L665.6 1058.6L666.5 1062.3L667.4 1057.4L668.3 1057.2L669.2 1059.7L670.1 1056.5L671.0 1056.1L671.9 1060.2L672.8 1056.5L673.7 1059.5L674.6 1057.4L675.5 1057.9L676.4 1056.9L677.3 1059.5L678.2 1058.6L679.1 1058.5L680.0 1058.0L680.9 1057.8L681.8 1060.9L682.7 1060.4L683.6 1060.7L684.5 1057.0L685.4 1059.8L686.3 1056.1L687.2 1061.8L688.1 1062.2L689.0 1061.5L689.9 1059.9L690.8 1060.0L691.7 1058.7L692.6 1057.6L693.5 1060.5L694.4 1060.7L695.3 1058.1L696.2 1056.3L697.1 1057.6L698.0 1057.7L698.9 1057.1L699.8 1054.9L700.7 1055.2L701.6 1057.6L702.5 1060.4L703.4 1054.1L704.3 1056.3L705.2 1054.6L706.1 1054.5L707.0 1052.1L707.9 1050.6L708.8 1042.8L709.7 1031.3L710.6 1017.2L711.5 996.1L712.4 974.6L713.4 955.9L713.9 954.1L714.4 955.4L715.1 962.3L716.0 975.7L716.9 994.2L717.8 1014.5L718.7 1030.7L719.6 1038.3L720.5 1046.3L721.4 1051.0L722.3 1056.7L723.2 1053.7L724.1 1056.3L725.0 1053.0L725.9 1058.1L726.8 1056.4L727.7 1058.3L728.6 1060.1L729.5 1056.6L730.4 1055.2L731.3 1059.9L732.2 1058.3L733.1 1060.3L734.0 1062.0L734.9 1058.0L735.8 1057.5L736.7 1058.3L737.6 1056.9L738.5 1058.4L739.4 1061.6L740.3 1058.4L741.2 1057.3L742.1 1060.4L743.0 1060.6L743.9 1056.3L744.8 1059.8L745.7 1058.8L746.6 1060.2L747.5 1058.2L748.4 1058.6L749.3 1057.4L750.2 1062.7L751.1 1059.9L752.0 1060.0L752.9 1059.8L753.8 1058.6L754.7 1060.3L755.6 1058.7L756.5 1061.6L757.4 1058.4L758.3 1058.9L759.2 1053.5L760.1 1053.8L761.0 1052.9L761.9 1049.7L762.8 1049.1L763.7 1045.8L764.6 1039.0L765.5 1031.5L766.4 1010.9L767.3 982.3L768.2 937.0L769.1 886.3L770.0 832.9L771.0 796.5L771.5 793.6L772.0 796.5L772.7 811.4L773.6 844.5L774.5 889.2L775.4 930.5L776.3 969.8L777.2 1002.0L778.1 1022.7L779.0 1034.4L779.9 1042.8L780.8 1048.4L781.7 1050.9L782.6 1053.4L783.5 1056.7L784.4 1056.6L785.3 1057.3L786.2 1057.4L787.1 1059.8L788.0 1058.2L788.9 1060.2L789.8 1058.2L790.7 1059.7L791.6 1061.0L792.5 1059.9L793.4 1061.5L794.3 1061.5L795.2 1060.9L796.1 1062.8L797.0 1062.4L797.9 1061.5L798.8 1062.6L799.7 1063.8L800.6 1061.1L801.5 1060.9L802.4 1064.2L803.3 1061.5L804.2 1062.2L805.1 1059.9L806.0 1062.9L806.9 1063.7L807.8 1061.3L808.7 1064.0L809.6 1061.7L810.5 1063.0L811.4 1065.4L812.3 1066.1L813.2 1063.6L814.1 1065.8L815.0 1063.0L815.9 1065.3L816.8 1061.7L817.7 1064.7L818.6 1063.7L819.5 1062.6L820.4 1063.8L821.3 1063.6L822.2 1063.9L823.1 1065.1L824.0 1063.0L824.9 1063.1L825.8 1064.1L826.7 1063.4L827.6 1064.1L828.5 1062.4L829.4 1065.3L830.3 1062.8L831.2 1065.4L832.1 1065.4L833.0 1063.2L833.9 1065.1L834.8 1066.1L835.7 1063.9L836.6 1064.8L837.5 1062.9L838.4 1065.7L839.3 1064.5L840.2 1066.4L841.1 1065.6L842.0 1064.2L842.9 1063.0L843.8 1065.5L844.7 1065.8L845.6 1063.8L846.5 1065.6L847.4 1064.9L848.3 1063.9L849.2 1063.3L850.1 1064.2L851.0 1065.6L851.9 1063.0L852.8 1064.1L853.7 1064.1L854.6 1063.3L855.5 1063.0L856.4 1064.8L857.3 1065.7L858.2 1063.9L859.1 1062.7L860.0 1064.3L860.9 1063.8L861.8 1064.5L862.7 1062.7L863.6 1065.2L864.5 1063.5L865.4 1065.6L866.3 1064.0L867.2 1063.5L868.1 1063.8L869.0 1064.8L869.9 1064.8L870.8 1065.4L871.7 1062.4L872.6 1063.2L873.5 1063.8L874.4 1061.4L875.3 1063.6L876.2 1064.8L877.1 1063.3L878.0 1064.1L878.9 1063.4L879.8 1064.1L880.7 1062.8L881.6 1065.5L882.5 1065.3L883.4 1064.5L884.3 1066.5L885.2 1064.7L886.1 1063.9L887.0 1061.4L887.9 1062.5L888.8 1064.4L889.7 1065.1L890.6 1061.9L891.5 1062.5L892.4 1057.6L893.3 1044.1L894.2 992.8L894.8 941.1L895.3 925.6L895.8 930.7L896.9 963.6L897.8 976.4L898.7 981.5L899.6 1001.4L900.5 1025.3L901.4 1047.4L902.3 1053.4L903.2 1060.2L904.1 1060.4L905.0 1066.6L905.9 1061.5L906.8 1066.1L907.7 1064.9L908.6 1064.2L909.5 1064.5L910.4 1064.0L911.3 1062.7L912.2 1066.1L913.1 1068.0L914.0 1065.3L914.9 1066.2L915.8 1066.7L916.7 1063.7L917.6 1064.7L918.5 1063.0L919.4 1065.2L920.3 1062.1L921.2 1063.1L922.1 1053.5L923.0 1016.4L924.1 930.9L924.6 918.2L925.1 922.0L925.7 937.0L926.6 955.4L927.5 956.1L928.4 979.1L929.3 1002.7L930.2 1025.8L931.1 1044.7L932.0 1053.2L932.9 1062.1L933.8 1064.3L934.7 1064.4L935.6 1067.1L936.5 1068.0L937.4 1066.0L938.3 1064.6L939.2 1065.4L940.1 1066.7L941.0 1068.9L941.9 1068.9L942.8 1068.3L943.7 1071.1L944.6 1068.5L945.5 1069.8L946.4 1067.6L947.3 1068.3L948.2 1069.3L949.1 1070.7L950.0 1066.6L950.9 1071.2L951.8 1068.3L952.7 1071.1L953.6 1069.6L954.5 1068.2L955.4 1068.9L956.3 1072.7L957.2 1070.0L958.1 1069.6L959.0 1068.4L959.9 1069.0L960.8 1072.0L961.7 1072.4L962.6 1073.0L963.5 1071.2L964.4 1070.1L965.3 1069.3L966.2 1072.6L967.1 1070.2L968.0 1069.1L968.9 1070.5L969.8 1070.8L970.7 1072.4L971.6 1070.9L972.5 1072.9L973.4 1072.3L974.3 1071.5L975.2 1068.4L976.1 1068.6L977.0 1071.5L977.9 1072.3L978.8 1073.7L979.7 1069.4L980.6 1072.5L981.5 1072.5L982.4 1073.0L983.3 1072.1L984.2 1071.6L985.1 1071.9L986.0 1072.5L986.9 1073.5L987.8 1071.0L988.7 1071.5L989.6 1071.1L990.5 1072.3L991.4 1069.0L992.3 1074.1L993.2 1072.6L994.1 1071.1L995.0 1072.2L995.9 1072.1L996.8 1071.8L997.7 1072.5L998.6 1076.0L999.5 1076.5L1000.4 1070.2L1001.3 1073.1L1002.2 1073.3L1003.1 1071.5L1004.0 1072.7L1004.9 1072.7L1005.8 1073.1L1006.7 1071.2L1007.6 1071.8L1008.5 1074.5L1009.4 1074.3L1010.3 1074.5L1011.2 1074.5L1012.1 1072.3L1013.0 1074.5L1013.9 1073.3L1014.8 1075.0L1015.7 1073.6L1016.6 1074.7L1017.5 1073.0L1018.4 1075.9L1019.3 1074.1L1020.2 1074.6L1021.1 1073.2L1022.0 1076.1L1022.9 1075.6L1023.8 1076.5L1024.7 1073.4L1025.6 1075.3L1026.5 1074.6L1027.4 1074.3L1028.3 1075.3L1029.2 1074.2L1030.1 1076.4L1031.0 1073.3L1031.9 1073.8L1032.8 1073.9L1033.7 1075.8L1034.6 1073.7L1035.5 1072.8L1036.4 1075.4L1037.3 1076.5L1038.2 1074.1L1039.1 1075.4L1040.0 1074.4L1040.9 1075.4L1041.8 1075.7L1042.7 1072.7L1043.6 1077.3L1044.5 1075.0L1045.4 1076.4L1046.3 1076.3L1047.2 1073.9L1048.1 1077.3L1049.0 1074.8L1049.9 1074.1L1050.8 1076.0L1051.7 1078.2L1052.6 1077.4L1053.5 1072.4L1054.4 1074.9L1055.3 1075.6L1056.2 1074.8L1057.1 1074.3L1058.0 1074.8L1058.9 1074.1L1059.8 1077.5L1060.7 1075.8L1061.6 1074.3L1062.5 1075.9L1063.4 1077.6L1064.3 1075.2L1065.2 1077.2L1066.1 1074.1L1067.0 1075.3L1067.9 1079.2L1068.8 1075.9L1069.7 1074.2L1070.6 1077.8L1071.5 1075.6L1072.4 1077.3L1073.3 1075.9L1074.2 1074.0L1075.1 1078.3L1076.0 1076.0L1076.9 1074.1L1077.8 1077.7L1078.7 1076.3L1079.6 1079.2L1080.5 1077.7L1081.4 1076.6L1082.3 1074.1L1083.2 1074.1L1084.1 1076.0L1085.0 1074.2L1085.9 1076.4L1086.8 1077.6L1087.7 1076.9L1088.6 1078.2L1089.5 1077.6L1090.4 1076.9L1091.3 1075.9L1092.2 1075.4L1093.1 1076.0L1094.0 1076.4L1094.9 1078.1L1095.8 1076.1L1096.7 1075.3L1097.6 1075.2L1098.5 1075.1L1099.4 1075.3L1100.3 1079.0L1101.2 1078.0L1102.1 1076.8L1103.0 1077.3L1103.9 1076.2L1104.8 1075.3L1105.7 1074.8L1106.6 1076.8L1107.5 1077.5L1108.4 1078.1L1109.3 1075.8L1110.2 1077.3L1111.1 1075.0L1112.0 1076.9L1112.9 1076.1L1113.8 1077.0L1114.7 1074.4L1115.6 1076.5L1116.5 1076.2L1117.4 1075.7L1118.3 1077.6L1119.2 1076.9L1120.1 1077.0L1121.0 1078.0L1121.9 1074.6L1122.8 1076.6L1123.7 1073.0L1124.6 1074.6L1125.5 1072.6L1126.4 1071.8L1127.3 1070.7L1128.2 1066.3L1129.1 1057.4L1130.0 1046.7L1130.9 1035.9L1131.6 1030.4L1132.1 1030.1L1132.5 1030.2L1133.6 1031.4L1134.5 1036.5L1135.4 1038.6L1136.3 1043.2L1137.2 1050.2L1138.1 1059.0L1139.0 1063.8L1139.9 1067.4L1140.8 1071.1L1141.7 1072.1L1142.6 1073.1L1143.5 1073.0L1144.4 1075.4L1145.3 1077.0L1146.2 1074.3L1147.1 1074.7L1148.0 1076.5L1148.9 1076.7L1149.8 1077.0L1150.7 1075.4L1151.6 1076.4L1152.5 1075.6L1153.4 1076.7L1154.3 1074.9L1155.2 1076.8L1156.1 1074.7L1157.0 1079.0L1157.9 1074.7L1158.8 1076.7L1159.7 1078.2L1160.6 1076.5L1161.5 1077.4L1162.4 1075.4L1163.3 1077.9L1164.2 1078.4L1165.1 1078.3L1166.0 1076.4L1166.9 1078.7L1167.8 1077.4L1168.7 1077.0L1169.6 1076.1L1170.5 1077.9L1171.4 1077.6L1172.3 1076.3L1173.2 1076.0L1174.1 1077.0L1175.0 1075.2L1175.9 1078.2L1176.8 1078.1L1177.7 1078.4L1178.6 1076.6L1179.5 1080.7L1180.4 1077.6L1181.3 1079.0L1182.2 1078.0L1183.1 1078.5L1184.0 1076.2L1184.9 1078.9L1185.8 1076.6L1186.7 1075.2L1187.6 1077.0L1188.5 1079.0L1189.4 1078.2L1190.3 1077.6L1191.2 1075.8L1192.1 1078.6L1193.0 1077.6L1193.9 1076.2L1194.8 1078.0L1195.7 1076.5L1196.6 1075.9L1197.5 1077.4L1198.4 1077.6L1199.3 1075.7L1200.2 1079.4L1201.1 1076.4L1202.0 1077.7L1202.9 1076.5L1203.8 1076.3L1204.7 1076.7L1205.6 1076.1L1206.5 1076.9L1207.4 1077.5L1208.3 1075.5L1209.2 1077.8L1210.1 1077.9L1211.0 1076.7L1211.9 1077.7L1212.8 1077.6L1213.7 1078.1L1214.6 1077.1L1215.5 1076.2L1216.4 1075.8L1217.3 1076.2L1218.2 1076.1L1219.1 1076.9L1220.0 1074.7L1220.9 1074.3L1221.8 1073.5L1222.7 1073.6L1223.6 1068.1L1224.5 1043.7L1225.4 1010.5L1225.8 1000.9L1226.2 996.0L1226.7 997.7L1227.2 1003.3L1228.1 1013.8L1229.0 1019.4L1229.9 1017.3L1230.8 1026.0L1231.7 1033.9L1232.6 1046.3L1233.5 1054.8L1234.4 1063.1L1235.3 1068.2L1236.2 1074.1L1237.1 1071.7L1238.0 1073.5L1238.9 1073.5L1239.8 1075.5L1240.7 1075.5L1241.6 1074.3L1242.5 1076.2L1243.4 1076.4L1244.3 1076.3L1245.2 1076.0L1246.1 1077.5L1247.0 1076.8L1247.9 1076.9L1248.8 1077.0L1249.7 1076.2L1250.6 1076.8L1251.5 1077.1L1252.4 1076.3L1253.3 1078.0L1254.2 1075.8L1255.1 1078.0L1256.0 1076.6L1256.9 1076.3L1257.8 1077.3L1258.7 1077.1L1259.6 1078.4L1260.5 1076.3L1261.4 1076.2L1262.3 1077.6L1263.2 1079.6L1264.1 1076.1L1265.0 1079.0L1265.9 1080.3L1266.8 1077.0L1267.7 1079.2L1268.6 1077.6L1269.5 1077.1L1270.4 1077.2L1271.3 1077.3L1272.2 1076.5L1273.1 1077.6L1274.0 1077.0L1274.9 1080.1L1275.8 1079.4L1276.7 1077.7L1277.6 1077.7L1278.5 1079.0L1279.4 1081.1L1280.3 1079.8L1281.2 1078.7L1282.1 1080.0L1283.0 1075.8L1283.9 1075.9L1284.8 1078.3L1285.7 1076.9L1286.6 1077.9L1287.5 1077.6L1288.4 1078.1L1289.3 1078.3L1290.2 1077.4L1291.1 1077.4L1292.0 1079.0L1292.9 1077.8L1293.8 1077.5L1294.7 1077.5L1295.6 1076.9L1296.5 1076.5L1297.4 1079.7L1298.3 1076.3L1299.2 1078.1L1300.1 1077.8L1301.0 1077.6L1301.9 1078.4L1302.8 1081.2L1303.7 1080.1L1304.6 1077.5L1305.5 1075.9L1306.4 1078.2L1307.3 1077.7L1308.2 1076.8L1309.1 1078.8L1310.0 1077.5L1310.9 1077.3L1311.8 1080.1L1312.7 1079.1L1313.6 1077.6L1314.5 1079.8L1315.4 1078.2L1316.3 1077.3L1317.2 1077.2L1318.1 1077.4L1319.0 1077.5L1319.9 1076.7L1320.8 1077.3L1321.7 1076.1L1322.6 1076.1L1323.5 1078.3L1324.4 1078.6L1325.3 1077.7L1326.2 1076.4L1327.1 1077.4L1328.0 1076.1L1328.9 1076.2L1329.8 1076.9L1330.7 1078.3L1331.6 1080.3L1332.5 1078.5L1333.4 1077.2L1334.3 1076.5L1335.2 1078.4L1336.1 1078.8L1337.0 1077.2L1337.9 1078.9L1338.8 1079.1L1339.7 1077.6L1340.6 1077.7L1341.5 1076.7L1342.4 1075.9L1343.3 1077.4L1344.2 1077.7L1345.1 1076.9L1346.0 1076.9L1346.9 1078.6L1347.8 1077.4L1348.7 1080.6L1349.6 1078.1L1350.5 1078.9L1351.4 1077.2L1352.3 1077.2L1353.2 1076.9L1354.1 1076.4L1355.0 1079.2L1355.9 1078.7L1356.8 1077.0L1357.7 1077.9L1358.6 1077.9L1359.5 1076.9L1360.4 1077.8L1361.3 1076.6L1362.2 1077.7L1363.1 1078.5L1364.0 1077.4L1364.9 1079.1L1365.8 1078.4L1366.7 1075.9L1367.6 1078.0L1368.5 1077.4L1369.4 1077.2L1370.3 1075.9L1371.2 1078.5L1372.1 1076.4L1373.0 1078.5L1373.9 1078.2L1374.8 1078.9L1375.7 1076.9L1376.6 1078.8L1377.5 1076.4L1378.4 1079.4L1379.3 1077.9L1380.2 1077.4L1381.1 1077.6L1382.0 1078.4L1382.9 1076.4L1383.8 1077.5L1384.7 1076.6L1385.6 1077.4L1386.5 1076.4L1387.4 1077.4L1388.3 1078.3L1389.2 1076.2L1390.1 1077.2L1391.0 1078.5L1391.9 1077.6L1392.8 1078.5L1393.7 1075.5L1394.6 1076.0L1395.5 1077.1L1396.4 1078.3L1397.3 1076.3L1398.2 1078.1L1399.1 1075.7L1400.0 1078.6L1400.9 1075.5L1401.8 1078.5L1402.7 1075.8L1403.6 1075.9L1404.5 1075.1L1405.4 1075.7L1406.3 1078.1L1407.2 1075.1L1408.1 1072.5L1409.0 1069.9L1409.9 1068.5L1410.8 1063.2L1411.3 1063.9L1411.8 1063.5L1412.2 1063.4L1412.6 1064.0L1413.5 1065.0L1414.4 1067.0L1415.3 1066.3L1416.2 1065.5L1417.1 1059.8L1418.0 1054.1L1418.9 1045.1L1419.8 1036.2L1420.1 1035.1L1420.6 1034.9L1421.0 1035.1L1421.6 1035.6L1422.5 1045.7L1423.4 1050.0L1424.3 1051.0L1425.2 1052.1L1426.1 1053.1L1427.0 1057.4L1427.9 1059.7L1428.8 1060.9L1429.7 1058.6L1430.6 1047.2L1431.5 1029.1L1432.4 1007.5L1433.5 987.3L1434.0 984.5L1434.5 986.9L1435.1 994.9L1436.0 1013.0L1436.9 1018.8L1437.8 1021.0L1438.7 1023.8L1439.6 1030.2L1440.5 1039.3L1441.4 1052.6L1442.3 1059.0L1443.2 1067.6L1444.1 1071.5L1445.0 1072.4L1445.9 1075.9L1446.8 1071.4L1447.7 1076.7L1448.6 1074.9L1449.5 1075.8L1450.4 1075.1L1451.3 1076.1L1452.2 1076.7L1453.1 1074.8L1454.0 1075.8L1454.9 1075.4L1455.8 1075.4L1456.7 1077.2L1457.6 1076.5L1458.5 1077.5L1459.4 1076.6L1460.3 1077.0L1461.2 1079.4L1462.1 1077.8L1463.0 1075.2L1463.9 1075.1L1464.8 1075.9L1465.7 1075.2L1466.6 1070.2L1467.5 1062.4L1468.4 1051.1L1469.3 1037.3L1470.0 1025.9L1470.5 1024.0L1471.0 1025.0L1472.0 1031.3L1472.9 1039.8L1473.8 1040.6L1474.7 1042.3L1475.6 1045.2L1476.5 1049.2L1477.4 1057.1L1478.3 1063.7L1479.2 1069.9L1480.1 1071.4L1481.0 1072.5L1481.9 1073.4L1482.8 1075.6L1483.7 1073.9L1484.6 1077.6L1485.5 1075.2L1486.4 1075.1L1487.3 1075.4L1488.2 1076.1L1489.1 1074.3L1490.0 1072.6L1490.9 1065.2L1491.8 1053.6L1492.7 1038.9L1493.1 1031.4L1493.6 1029.6L1494.0 1030.1L1494.5 1032.7L1495.4 1042.2L1496.3 1047.7L1497.2 1050.9L1498.1 1047.7L1499.0 1048.2L1499.9 1055.7L1500.8 1063.0L1501.7 1066.1L1502.6 1069.8L1503.5 1072.2L1504.4 1076.1L1505.3 1078.6L1506.2 1076.1L1507.1 1077.4L1508.0 1077.4L1508.9 1079.4L1509.8 1078.2L1510.7 1080.4L1511.6 1077.9L1512.5 1078.9L1513.4 1079.1L1514.3 1078.9L1515.2 1079.5L1516.1 1079.5L1517.0 1080.4L1517.9 1079.4L1518.8 1079.7L1519.7 1079.2L1520.6 1081.0L1521.5 1080.8L1522.4 1078.1L1523.3 1081.1L1524.2 1081.9L1525.1 1079.0L1526.0 1080.0L1526.9 1081.4L1527.8 1081.1L1528.7 1080.4L1529.6 1082.6L1530.5 1080.6L1531.4 1081.4L1532.3 1082.8L1533.2 1080.6L1534.1 1082.0L1535.0 1080.0L1535.9 1080.6L1536.8 1081.6L1537.7 1080.8L1538.6 1081.1L1539.5 1081.2L1540.4 1080.7L1541.3 1082.2L1542.2 1083.6L1543.1 1081.2L1544.0 1079.4L1544.9 1081.1L1545.8 1081.2L1546.7 1082.8L1547.6 1082.5L1548.5 1080.5L1549.4 1082.4L1550.3 1080.4L1551.2 1083.0L1552.1 1084.0L1553.0 1081.0L1553.9 1083.0L1554.8 1081.9L1555.7 1081.8L1556.6 1082.8L1557.5 1083.2L1558.4 1082.1L1559.3 1082.0L1560.2 1082.3L1561.1 1083.5L1562.0 1085.5L1562.9 1084.0L1563.8 1080.3L1564.7 1083.2L1565.6 1080.5L1566.5 1084.5L1567.4 1083.9L1568.3 1084.5L1569.2 1084.6L1570.1 1083.5L1571.0 1083.2L1571.9 1085.1L1572.8 1083.1L1573.7 1084.2L1574.6 1082.6L1575.5 1082.7L1576.4 1084.3L1577.3 1083.2L1578.2 1083.0L1579.1 1084.2L1580.0 1080.7L1580.9 1082.0L1581.8 1083.3L1582.7 1085.2L1583.6 1084.6L1584.5 1084.2L1585.4 1082.9L1586.3 1084.1L1587.2 1083.3L1588.1 1081.8L1589.0 1082.4L1589.9 1086.1L1590.8 1083.8L1591.7 1083.7L1592.6 1084.8L1593.5 1084.8L1594.4 1083.8L1595.3 1083.7L1596.2 1082.7L1597.1 1086.4L1598.0 1084.9L1598.9 1084.0L1599.8 1084.0L1600.7 1082.8L1601.6 1085.3L1602.5 1086.7L1603.4 1083.0L1604.3 1083.9L1605.2 1085.9L1606.1 1083.5L1607.0 1082.0L1607.9 1081.1L1608.8 1084.1L1609.7 1082.9L1610.6 1084.1L1611.5 1081.7L1612.4 1083.8L1613.3 1082.3L1614.2 1080.2L1615.1 1082.2L1616.0 1081.2L1616.9 1078.7L1617.8 1079.3L1618.7 1075.6L1619.6 1071.5L1620.5 1066.6L1621.4 1059.5L1622.3 1052.1L1623.2 1042.9L1624.3 1036.2L1624.8 1035.6L1625.2 1036.4L1625.9 1039.1L1626.8 1042.7L1627.7 1047.5L1628.6 1049.2L1629.5 1049.9L1630.4 1054.9L1631.3 1060.9L1632.2 1064.2L1633.1 1069.1L1634.0 1071.9L1634.9 1075.7L1635.8 1079.7L1636.7 1079.1L1637.6 1080.6L1638.5 1080.8L1639.4 1084.6L1640.3 1084.3L1641.2 1084.1L1642.1 1085.2L1643.0 1083.8L1643.9 1083.6L1644.8 1084.0L1645.7 1084.4L1646.6 1085.1L1647.5 1081.7L1648.4 1081.2L1649.3 1084.7L1650.2 1083.4L1651.1 1084.2L1652.0 1084.4L1652.9 1080.9L1653.8 1083.8"/>
<path stroke="#ff0000" stroke-width="9.5" d="M211.1 1424.8L212.0 1422.3L212.9 1422.3L213.8 1424.1L214.7 1424.6L215.6 1425.4L216.5 1424.5L217.4 1428.5L218.3 1424.4L219.2 1425.2L220.1 1423.9L221.0 1422.9L221.9 1424.0L222.8 1425.8L223.7 1421.6L224.6 1419.3L225.5 1421.5L226.4 1424.7L227.3 1421.1L228.2 1423.5L229.1 1425.6L230.0 1423.8L230.9 1418.4L231.8 1422.8L232.7 1420.7L233.6 1421.4L234.5 1419.3L235.4 1421.8L236.3 1422.8L237.2 1420.2L238.1 1418.3L239.0 1418.5L239.9 1423.9L240.8 1420.0L241.7 1418.9L242.6 1421.6L243.5 1418.4L244.4 1419.0L245.3 1417.4L246.2 1420.0L247.1 1419.3L248.0 1421.8L248.9 1418.7L249.8 1417.6L250.7 1416.4L251.6 1419.4L252.5 1416.8L253.4 1417.9L254.3 1416.8L255.2 1420.7L256.1 1415.7L257.0 1414.5L257.9 1417.5L258.8 1416.7L259.7 1416.4L260.6 1418.6L261.5 1418.2L262.4 1417.8L263.3 1420.2L264.2 1415.4L265.1 1418.6L266.0 1415.3L266.9 1417.2L267.8 1410.9L268.7 1414.9L269.6 1417.1L270.5 1417.7L271.4 1415.6L272.3 1413.6L273.2 1417.5L274.1 1418.6L275.0 1411.8L275.9 1415.5L276.8 1416.1L277.7 1415.8L278.6 1412.2L279.5 1415.5L280.4 1415.0L281.3 1414.2L282.2 1416.2L283.1 1416.3L284.0 1413.6L284.9 1417.3L285.8 1412.2L286.7 1418.1L287.6 1411.9L288.5 1416.7L289.4 1411.7L290.3 1414.8L291.2 1415.4L292.1 1412.3L293.0 1414.9L293.9 1411.6L294.8 1412.3L295.7 1413.5L296.6 1413.3L297.5 1413.9L298.4 1414.1L299.3 1418.0L300.2 1414.3L301.1 1412.8L302.0 1412.4L302.9 1412.3L303.8 1412.8L304.7 1411.0L305.6 1415.4L306.5 1412.5L307.4 1410.2L308.3 1410.3L309.2 1413.4L310.1 1412.4L311.0 1410.4L311.9 1409.8L312.8 1409.7L313.7 1412.2L314.6 1410.7L315.5 1408.2L316.4 1412.1L317.3 1406.3L318.2 1409.7L319.1 1414.0L320.0 1412.5L320.9 1406.7L321.8 1409.6L322.7 1409.1L323.6 1412.7L324.5 1411.5L325.4 1413.4L326.3 1412.1L327.2 1411.9L328.1 1408.7L329.0 1409.7L329.9 1409.7L330.8 1407.9L331.7 1413.2L332.6 1411.3L333.5 1406.9L334.4 1412.3L335.3 1408.8L336.2 1411.9L337.1 1409.2L338.0 1408.2L338.9 1408.1L339.8 1407.2L340.7 1408.8L341.6 1406.8L342.5 1411.1L343.4 1408.5L344.3 1409.6L345.2 1410.7L346.1 1407.6L347.0 1406.8L347.9 1413.3L348.8 1406.4L349.7 1408.2L350.6 1410.8L351.5 1410.7L352.4 1409.1L353.3 1407.4L354.2 1412.2L355.1 1411.0L356.0 1409.7L356.9 1409.5L357.8 1411.5L358.7 1412.2L359.6 1410.0L360.5 1409.9L361.4 1411.1L362.3 1405.0L363.2 1412.9L364.1 1407.3L365.0 1409.3L365.9 1410.8L366.8 1409.4L367.7 1412.1L368.6 1413.6L369.5 1409.8L370.4 1411.1L371.3 1410.8L372.2 1412.0L373.1 1409.7L374.0 1409.4L374.9 1409.2L375.8 1409.9L376.7 1411.6L377.6 1407.6L378.5 1411.2L379.4 1409.4L380.3 1409.1L381.2 1406.2L382.1 1407.9L383.0 1411.8L383.9 1408.6L384.8 1412.7L385.7 1407.9L386.6 1407.1L387.5 1410.3L388.4 1407.8L389.3 1410.8L390.2 1411.8L391.1 1410.8L392.0 1409.9L392.9 1408.0L393.8 1410.9L394.7 1410.9L395.6 1409.5L396.5 1409.7L397.4 1408.8L398.3 1410.4L399.2 1410.1L400.1 1409.6L401.0 1410.9L401.9 1411.2L402.8 1410.7L403.7 1410.1L404.6 1409.6L405.5 1411.7L406.4 1410.1L407.3 1412.2L408.2 1411.1L409.1 1413.3L410.0 1410.0L410.9 1409.9L411.8 1410.9L412.7 1410.7L413.6 1410.0L414.5 1410.2L415.4 1411.3L416.3 1410.0L417.2 1407.3L418.1 1408.2L419.0 1412.8L419.9 1408.6L420.8 1409.5L421.7 1409.2L422.6 1409.2L423.5 1409.7L424.4 1411.7L425.3 1409.8L426.2 1408.8L427.1 1409.8L428.0 1410.7L428.9 1406.5L429.8 1412.7L430.7 1407.1L431.6 1410.0L432.5 1412.2L433.4 1411.2L434.3 1411.7L435.2 1410.7L436.1 1408.8L437.0 1413.5L437.9 1416.3L438.8 1410.8L439.7 1410.1L440.6 1409.9L441.5 1409.8L442.4 1409.5L443.3 1411.6L444.2 1408.4L445.1 1412.4L446.0 1407.8L446.9 1406.7L447.8 1408.4L448.7 1409.4L449.6 1408.5L450.5 1409.5L451.4 1408.3L452.3 1407.8L453.2 1408.3L454.1 1406.9L455.0 1407.5L455.9 1408.1L456.8 1405.2L457.7 1411.8L458.6 1404.8L459.5 1408.2L460.4 1409.5L461.3 1408.8L462.2 1410.8L463.1 1409.2L464.0 1407.7L464.9 1409.3L465.8 1410.4L466.7 1411.5L467.6 1408.4L468.5 1410.2L469.4 1408.8L470.3 1406.2L471.2 1404.6L472.1 1407.0L473.0 1406.3L473.9 1403.8L474.8 1408.6L475.7 1409.7L476.6 1409.2L477.5 1405.6L478.4 1406.6L479.3 1405.3L480.2 1407.5L481.1 1407.4L482.0 1407.7L482.9 1407.1L483.8 1410.2L484.7 1408.2L485.6 1407.8L486.5 1408.0L487.4 1411.2L488.3 1407.6L489.2 1409.2L490.1 1406.3L491.0 1409.8L491.9 1408.0L492.8 1404.5L493.7 1409.7L494.6 1404.9L495.5 1405.3L496.4 1408.2L497.3 1408.4L498.2 1406.8L499.1 1406.3L500.0 1405.6L500.9 1405.5L501.8 1404.2L502.7 1402.9L503.6 1405.9L504.5 1402.0L505.4 1403.4L506.3 1401.8L507.2 1397.4L508.1 1392.3L509.0 1382.2L509.9 1370.6L510.8 1347.2L511.7 1292.0L512.6 1151.3L513.1 1011.2L513.6 953.8L514.1 1004.7L514.4 1068.5L515.3 1123.1L516.2 1165.0L517.1 1291.5L518.0 1350.5L518.9 1374.1L519.8 1385.9L520.7 1392.1L521.6 1396.1L522.5 1399.3L523.4 1403.4L524.3 1400.9L525.2 1403.4L526.1 1406.5L527.0 1405.1L527.9 1405.9L528.8 1404.2L529.7 1405.0L530.6 1407.3L531.5 1402.6L532.4 1405.1L533.3 1407.5L534.2 1407.4L535.1 1407.3L536.0 1407.9L536.9 1403.2L537.8 1402.9L538.7 1405.1L539.6 1402.8L540.5 1401.1L541.4 1403.4L542.3 1403.4L543.2 1402.4L544.1 1399.5L545.0 1396.2L545.9 1396.9L546.8 1388.4L547.7 1381.3L548.6 1370.6L549.5 1353.2L550.4 1319.8L551.3 1248.8L552.2 1055.6L553.1 533.1L553.6 359.0L554.1 526.2L554.9 972.9L555.8 1120.3L556.7 1244.0L557.6 1322.5L558.5 1360.7L559.4 1379.0L560.3 1382.0L561.2 1394.0L562.1 1397.0L563.0 1398.2L563.9 1403.6L564.8 1405.6L565.7 1406.4L566.6 1408.5L567.5 1407.9L568.4 1408.9L569.3 1412.8L570.2 1411.1L571.1 1409.2L572.0 1407.3L572.9 1410.6L573.8 1409.6L574.7 1411.0L575.6 1414.0L576.5 1412.7L577.4 1412.8L578.3 1413.7L579.2 1417.9L580.1 1417.8L581.0 1415.6L581.9 1414.7L582.8 1416.5L583.7 1413.8L584.6 1413.8L585.5 1416.3L586.4 1415.5L587.3 1416.2L588.2 1417.2L589.1 1417.4L590.0 1418.7L590.9 1416.3L591.8 1418.2L592.7 1418.8L593.6 1420.1L594.5 1418.9L595.4 1417.1L596.3 1415.2L597.2 1418.7L598.1 1416.7L599.0 1419.3L599.9 1419.9L600.8 1418.2L601.7 1420.7L602.6 1421.3L603.5 1418.6L604.4 1420.2L605.3 1420.1L606.2 1417.2L607.1 1419.6L608.0 1421.7L608.9 1421.3L609.8 1422.7L610.7 1419.5L611.6 1420.8L612.5 1420.0L613.4 1420.6L614.3 1420.4L615.2 1421.6L616.1 1421.8L617.0 1421.5L617.9 1419.4L618.8 1420.3L619.7 1417.5L620.6 1417.3L621.5 1416.9L622.4 1412.4L623.3 1401.9L624.2 1384.5L625.1 1365.7L626.0 1343.2L626.8 1324.0L627.3 1321.7L627.8 1323.6L628.7 1334.6L629.6 1348.8L630.5 1370.4L631.4 1387.9L632.3 1403.9L633.2 1413.1L634.1 1416.2L635.0 1418.3L635.9 1420.1L636.8 1422.5L637.7 1424.9L638.6 1424.8L639.5 1420.6L640.4 1424.7L641.3 1429.3L642.2 1426.7L643.1 1427.1L644.0 1427.6L644.9 1426.0L645.8 1424.3L646.7 1429.3L647.6 1424.6L648.5 1429.1L649.4 1428.3L650.3 1428.7L651.2 1426.4L652.1 1429.5L653.0 1427.5L653.9 1427.7L654.8 1428.2L655.7 1429.4L656.6 1428.9L657.5 1430.3L658.4 1432.3L659.3 1431.6L660.2 1429.8L661.1 1432.7L662.0 1430.5L662.9 1430.3L663.8 1434.3L664.7 1432.2L665.6 1430.5L666.5 1433.9L667.4 1433.3L668.3 1434.2L669.2 1433.9L670.1 1431.2L671.0 1432.7L671.9 1435.7L672.8 1432.7L673.7 1433.2L674.6 1433.1L675.5 1433.1L676.4 1435.3L677.3 1435.2L678.2 1435.0L679.1 1435.1L680.0 1434.3L680.9 1436.5L681.8 1437.7L682.7 1437.1L683.6 1434.8L684.5 1436.9L685.4 1436.6L686.3 1436.0L687.2 1434.7L688.1 1436.0L689.0 1437.1L689.9 1436.4L690.8 1435.8L691.7 1437.1L692.6 1437.0L693.5 1436.1L694.4 1438.5L695.3 1438.7L696.2 1438.4L697.1 1435.8L698.0 1439.7L698.9 1439.2L699.8 1435.3L700.7 1437.1L701.6 1439.0L702.5 1438.5L703.4 1432.7L704.3 1434.8L705.2 1433.5L706.1 1432.9L707.0 1431.8L707.9 1430.9L708.8 1424.3L709.7 1414.4L710.6 1393.3L711.5 1362.8L712.4 1317.5L713.2 1282.8L713.7 1277.8L714.2 1281.7L715.1 1300.4L716.0 1320.9L716.9 1352.4L717.8 1381.8L718.7 1405.4L719.6 1423.5L720.5 1426.3L721.4 1431.5L722.3 1433.7L723.2 1434.7L724.1 1437.8L725.0 1438.1L725.9 1439.7L726.8 1435.9L727.7 1441.1L728.6 1441.8L729.5 1442.5L730.4 1440.8L731.3 1441.9L732.2 1440.4L733.1 1438.9L734.0 1445.0L734.9 1442.6L735.8 1442.5L736.7 1443.8L737.6 1440.6L738.5 1441.3L739.4 1445.0L740.3 1443.4L741.2 1445.8L742.1 1443.1L743.0 1445.3L743.9 1442.6L744.8 1442.9L745.7 1442.0L746.6 1443.2L747.5 1442.1L748.4 1440.5L749.3 1440.6L750.2 1442.7L751.1 1439.9L752.0 1440.6L752.9 1439.2L753.8 1440.8L754.7 1439.4L755.6 1441.1L756.5 1438.8L757.4 1438.7L758.3 1435.0L759.2 1436.0L760.1 1430.0L761.0 1432.3L761.9 1427.9L762.8 1424.8L763.7 1414.1L764.6 1404.7L765.5 1380.6L766.4 1343.0L767.3 1278.5L768.2 1192.0L769.3 1101.7L769.8 1093.5L770.2 1101.1L770.9 1126.4L771.8 1168.0L772.7 1215.4L773.6 1277.7L774.5 1334.7L775.4 1377.7L776.3 1400.4L777.2 1416.0L778.1 1423.8L779.0 1428.0L779.9 1433.2L780.8 1433.3L781.7 1437.5L782.6 1435.3L783.5 1438.3L784.4 1440.2L785.3 1442.1L786.2 1444.0L787.1 1442.2L788.0 1443.9L788.9 1443.6L789.8 1445.2L790.7 1446.7L791.6 1448.3L792.5 1447.1L793.4 1447.3L794.3 1444.8L795.2 1447.1L796.1 1446.0L797.0 1446.8L797.9 1448.9L798.8 1447.3L799.7 1447.0L800.6 1446.3L801.5 1447.8L802.4 1447.9L803.3 1450.1L804.2 1447.4L805.1 1449.5L806.0 1450.7L806.9 1448.1L807.8 1446.1L808.7 1448.3L809.6 1451.0L810.5 1448.8L811.4 1449.4L812.3 1450.8L813.2 1449.4L814.1 1446.2L815.0 1451.4L815.9 1447.9L816.8 1450.3L817.7 1450.3L818.6 1450.1L819.5 1447.6L820.4 1451.0L821.3 1449.4L822.2 1446.3L823.1 1448.9L824.0 1448.8L824.9 1450.5L825.8 1448.0L826.7 1447.7L827.6 1450.6L828.5 1452.1L829.4 1450.8L830.3 1449.5L831.2 1449.9L832.1 1450.3L833.0 1450.6L833.9 1451.8L834.8 1449.6L835.7 1452.5L836.6 1453.1L837.5 1451.1L838.4 1453.9L839.3 1451.5L840.2 1451.5L841.1 1453.8L842.0 1450.3L842.9 1453.8L843.8 1450.3L844.7 1451.8L845.6 1452.7L846.5 1451.3L847.4 1451.6L848.3 1450.3L849.2 1452.0L850.1 1453.1L851.0 1452.1L851.9 1453.5L852.8 1451.9L853.7 1453.0L854.6 1452.1L855.5 1454.4L856.4 1451.7L857.3 1452.6L858.2 1453.6L859.1 1450.5L860.0 1454.2L860.9 1453.3L861.8 1453.0L862.7 1453.2L863.6 1453.6L864.5 1452.4L865.4 1453.2L866.3 1451.5L867.2 1452.5L868.1 1453.5L869.0 1452.5L869.9 1454.3L870.8 1452.0L871.7 1452.1L872.6 1452.9L873.5 1452.2L874.4 1455.0L875.3 1454.7L876.2 1450.6L877.1 1453.9L878.0 1453.0L878.9 1453.2L879.8 1452.4L880.7 1453.9L881.6 1453.5L882.5 1454.3L883.4 1452.4L884.3 1451.8L885.2 1452.8L886.1 1451.7L887.0 1452.5L887.9 1454.8L888.8 1453.1L889.7 1453.4L890.6 1454.8L891.5 1454.8L892.4 1451.9L893.3 1450.4L894.2 1444.3L895.1 1414.0L895.4 1398.1L895.9 1386.2L896.4 1394.5L896.9 1415.2L897.8 1434.3L898.7 1424.5L899.6 1420.6L900.5 1439.4L901.4 1447.6L902.3 1450.8L903.2 1451.9L904.1 1453.5L905.0 1453.6L905.9 1456.0L906.8 1454.8L907.7 1454.4L908.6 1454.4L909.5 1453.8L910.4 1455.2L911.3 1456.2L912.2 1456.9L913.1 1457.3L914.0 1454.8L914.9 1454.1L915.8 1455.9L916.7 1455.3L917.6 1455.5L918.5 1456.2L919.4 1455.4L920.3 1454.5L921.2 1453.0L922.1 1449.8L923.0 1447.7L923.9 1429.9L924.9 1328.7L925.4 1293.3L925.9 1322.2L926.6 1398.2L927.5 1425.8L928.4 1389.3L929.3 1397.7L930.2 1438.1L931.1 1450.4L932.0 1451.4L932.9 1452.2L933.8 1455.1L934.7 1454.9L935.6 1456.4L936.5 1456.1L937.4 1455.6L938.3 1455.9L939.2 1456.7L940.1 1455.8L941.0 1456.9L941.9 1455.3L942.8 1455.8L943.7 1457.6L944.6 1456.5L945.5 1457.0L946.4 1456.0L947.3 1455.8L948.2 1457.0L949.1 1456.5L950.0 1457.8L950.9 1456.6L951.8 1457.2L952.7 1458.3L953.6 1456.3L954.5 1458.3L955.4 1457.7L956.3 1457.2L957.2 1458.2L958.1 1459.7L959.0 1457.7L959.9 1457.8L960.8 1458.1L961.7 1456.9L962.6 1456.9L963.5 1457.7L964.4 1458.7L965.3 1460.0L966.2 1457.9L967.1 1457.7L968.0 1458.9L968.9 1458.1L969.8 1459.7L970.7 1459.3L971.6 1458.7L972.5 1459.2L973.4 1458.8L974.3 1457.6L975.2 1458.1L976.1 1459.0L977.0 1460.0L977.9 1459.8L978.8 1461.5L979.7 1460.9L980.6 1460.5L981.5 1460.0L982.4 1459.6L983.3 1458.6L984.2 1457.3L985.1 1457.9L986.0 1460.9L986.9 1461.2L987.8 1458.9L988.7 1459.2L989.6 1461.7L990.5 1459.6L991.4 1461.4L992.3 1459.7L993.2 1457.8L994.1 1460.8L995.0 1458.6L995.9 1460.9L996.8 1460.1L997.7 1460.8L998.6 1459.7L999.5 1460.5L1000.4 1460.9L1001.3 1459.0L1002.2 1461.1L1003.1 1460.7L1004.0 1462.7L1004.9 1462.0L1005.8 1461.7L1006.7 1461.6L1007.6 1461.4L1008.5 1462.7L1009.4 1460.6L1010.3 1461.6L1011.2 1461.5L1012.1 1459.8L1013.0 1462.2L1013.9 1462.0L1014.8 1460.5L1015.7 1462.2L1016.6 1460.7L1017.5 1461.9L1018.4 1461.4L1019.3 1463.6L1020.2 1461.8L1021.1 1461.5L1022.0 1462.6L1022.9 1462.4L1023.8 1462.6L1024.7 1463.5L1025.6 1462.9L1026.5 1463.0L1027.4 1463.8L1028.3 1463.9L1029.2 1460.0L1030.1 1462.4L1031.0 1462.6L1031.9 1462.7L1032.8 1464.3L1033.7 1464.2L1034.6 1463.5L1035.5 1462.6L1036.4 1463.6L1037.3 1462.0L1038.2 1463.8L1039.1 1461.5L1040.0 1465.7L1040.9 1462.2L1041.8 1464.0L1042.7 1462.6L1043.6 1464.3L1044.5 1462.2L1045.4 1464.3L1046.3 1464.2L1047.2 1465.1L1048.1 1465.3L1049.0 1461.9L1049.9 1465.1L1050.8 1465.3L1051.7 1463.1L1052.6 1462.8L1053.5 1465.3L1054.4 1463.4L1055.3 1462.7L1056.2 1462.3L1057.1 1463.7L1058.0 1464.0L1058.9 1466.3L1059.8 1464.9L1060.7 1466.1L1061.6 1464.4L1062.5 1463.9L1063.4 1465.0L1064.3 1465.1L1065.2 1464.0L1066.1 1464.6L1067.0 1464.8L1067.9 1465.7L1068.8 1464.9L1069.7 1465.2L1070.6 1463.9L1071.5 1463.8L1072.4 1465.6L1073.3 1464.5L1074.2 1465.6L1075.1 1463.2L1076.0 1466.6L1076.9 1466.1L1077.8 1464.0L1078.7 1466.1L1079.6 1464.0L1080.5 1466.8L1081.4 1465.1L1082.3 1467.5L1083.2 1464.3L1084.1 1466.4L1085.0 1465.0L1085.9 1466.4L1086.8 1465.8L1087.7 1463.9L1088.6 1466.1L1089.5 1467.0L1090.4 1465.5L1091.3 1465.9L1092.2 1465.1L1093.1 1466.0L1094.0 1464.9L1094.9 1464.2L1095.8 1466.0L1096.7 1464.8L1097.6 1465.2L1098.5 1466.7L1099.4 1466.0L1100.3 1465.1L1101.2 1463.8L1102.1 1464.5L1103.0 1465.2L1103.9 1464.5L1104.8 1465.7L1105.7 1463.4L1106.6 1466.6L1107.5 1465.1L1108.4 1465.8L1109.3 1465.4L1110.2 1466.4L1111.1 1464.7L1112.0 1466.3L1112.9 1464.2L1113.8 1467.5L1114.7 1465.5L1115.6 1466.5L1116.5 1466.2L1117.4 1464.1L1118.3 1466.7L1119.2 1464.8L1120.1 1464.3L1121.0 1464.8L1121.9 1466.1L1122.8 1463.0L1123.7 1465.8L1124.6 1466.3L1125.5 1462.1L1126.4 1460.5L1127.3 1453.4L1128.2 1437.7L1129.1 1422.1L1129.5 1417.0L1129.9 1414.7L1130.4 1416.2L1130.9 1421.5L1131.8 1432.2L1132.7 1437.2L1133.6 1436.8L1134.5 1440.5L1135.4 1450.6L1136.3 1455.4L1137.2 1460.2L1138.1 1464.4L1139.0 1465.1L1139.9 1464.9L1140.8 1464.4L1141.7 1464.9L1142.6 1466.0L1143.5 1464.6L1144.4 1466.4L1145.3 1466.2L1146.2 1466.1L1147.1 1465.7L1148.0 1467.7L1148.9 1466.3L1149.8 1465.1L1150.7 1465.3L1151.6 1466.0L1152.5 1466.9L1153.4 1465.6L1154.3 1466.7L1155.2 1465.7L1156.1 1464.6L1157.0 1466.2L1157.9 1466.9L1158.8 1467.6L1159.7 1465.4L1160.6 1464.5L1161.5 1467.6L1162.4 1465.3L1163.3 1466.5L1164.2 1467.5L1165.1 1466.6L1166.0 1467.6L1166.9 1465.6L1167.8 1466.6L1168.7 1467.5L1169.6 1466.6L1170.5 1465.3L1171.4 1467.8L1172.3 1466.4L1173.2 1467.6L1174.1 1467.5L1175.0 1466.4L1175.9 1467.9L1176.8 1467.4L1177.7 1469.0L1178.6 1464.7L1179.5 1466.3L1180.4 1468.2L1181.3 1466.3L1182.2 1468.8L1183.1 1465.7L1184.0 1466.7L1184.9 1467.0L1185.8 1467.0L1186.7 1467.0L1187.6 1465.8L1188.5 1465.3L1189.4 1467.2L1190.3 1468.2L1191.2 1467.7L1192.1 1467.0L1193.0 1467.1L1193.9 1467.1L1194.8 1465.2L1195.7 1467.2L1196.6 1465.9L1197.5 1467.5L1198.4 1465.5L1199.3 1467.4L1200.2 1465.7L1201.1 1466.7L1202.0 1466.7L1202.9 1466.2L1203.8 1468.0L1204.7 1467.3L1205.6 1467.8L1206.5 1468.4L1207.4 1468.5L1208.3 1468.1L1209.2 1467.5L1210.1 1466.6L1211.0 1469.2L1211.9 1466.2L1212.8 1466.5L1213.7 1468.0L1214.6 1468.8L1215.5 1466.7L1216.4 1468.2L1217.3 1466.9L1218.2 1467.9L1219.1 1468.7L1220.0 1468.3L1220.9 1467.2L1221.8 1467.2L1222.7 1467.5L1223.6 1465.4L1224.5 1461.3L1225.4 1448.8L1226.1 1432.2L1226.6 1428.0L1227.0 1429.2L1228.1 1443.8L1229.0 1450.5L1229.9 1448.1L1230.8 1444.2L1231.7 1448.6L1232.6 1456.4L1233.5 1461.7L1234.4 1464.0L1235.3 1464.4L1236.2 1466.3L1237.1 1465.6L1238.0 1465.8L1238.9 1467.0L1239.8 1467.9L1240.7 1469.8L1241.6 1466.6L1242.5 1466.3L1243.4 1466.0L1244.3 1466.1L1245.2 1467.2L1246.1 1468.2L1247.0 1467.4L1247.9 1469.3L1248.8 1469.3L1249.7 1466.7L1250.6 1466.7L1251.5 1467.2L1252.4 1468.1L1253.3 1467.1L1254.2 1466.7L1255.1 1468.0L1256.0 1469.5L1256.9 1468.8L1257.8 1467.3L1258.7 1467.8L1259.6 1468.3L1260.5 1466.2L1261.4 1467.4L1262.3 1468.9L1263.2 1469.2L1264.1 1467.5L1265.0 1467.7L1265.9 1467.9L1266.8 1466.6L1267.7 1471.1L1268.6 1468.3L1269.5 1468.4L1270.4 1470.8L1271.3 1468.5L1272.2 1469.7L1273.1 1468.5L1274.0 1466.4L1274.9 1467.5L1275.8 1470.2L1276.7 1468.2L1277.6 1468.7L1278.5 1466.7L1279.4 1468.0L1280.3 1467.9L1281.2 1469.5L1282.1 1468.8L1283.0 1466.9L1283.9 1469.7L1284.8 1467.4L1285.7 1468.9L1286.6 1468.2L1287.5 1469.1L1288.4 1469.5L1289.3 1466.2L1290.2 1466.8L1291.1 1468.0L1292.0 1468.1L1292.9 1467.3L1293.8 1468.1L1294.7 1468.4L1295.6 1468.3L1296.5 1468.4L1297.4 1468.3L1298.3 1469.0L1299.2 1467.8L1300.1 1466.9L1301.0 1469.3L1301.9 1469.1L1302.8 1469.5L1303.7 1469.9L1304.6 1469.1L1305.5 1468.0L1306.4 1467.9L1307.3 1465.7L1308.2 1467.0L1309.1 1467.1L1310.0 1466.1L1310.9 1470.3L1311.8 1467.3L1312.7 1468.3L1313.6 1468.1L1314.5 1468.1L1315.4 1469.1L1316.3 1467.6L1317.2 1467.3L1318.1 1468.7L1319.0 1467.7L1319.9 1466.0L1320.8 1467.7L1321.7 1468.2L1322.6 1467.2L1323.5 1468.7L1324.4 1468.3L1325.3 1468.3L1326.2 1466.3L1327.1 1468.4L1328.0 1468.1L1328.9 1470.1L1329.8 1467.7L1330.7 1468.9L1331.6 1468.6L1332.5 1468.5L1333.4 1468.9L1334.3 1468.4L1335.2 1466.5L1336.1 1468.7L1337.0 1469.0L1337.9 1469.3L1338.8 1466.8L1339.7 1467.8L1340.6 1469.9L1341.5 1470.1L1342.4 1469.5L1343.3 1468.8L1344.2 1466.5L1345.1 1468.5L1346.0 1468.1L1346.9 1469.2L1347.8 1469.0L1348.7 1467.7L1349.6 1470.1L1350.5 1468.7L1351.4 1467.1L1352.3 1468.0L1353.2 1467.1L1354.1 1466.4L1355.0 1468.4L1355.9 1467.5L1356.8 1469.1L1357.7 1469.0L1358.6 1470.1L1359.5 1467.3L1360.4 1466.9L1361.3 1467.8L1362.2 1470.2L1363.1 1467.4L1364.0 1468.1L1364.9 1470.0L1365.8 1469.1L1366.7 1469.0L1367.6 1467.3L1368.5 1467.7L1369.4 1468.1L1370.3 1466.6L1371.2 1468.0L1372.1 1469.6L1373.0 1466.6L1373.9 1470.3L1374.8 1468.5L1375.7 1468.8L1376.6 1469.0L1377.5 1467.1L1378.4 1467.1L1379.3 1468.4L1380.2 1468.6L1381.1 1467.2L1382.0 1468.3L1382.9 1469.5L1383.8 1466.4L1384.7 1469.4L1385.6 1470.3L1386.5 1468.7L1387.4 1467.8L1388.3 1469.9L1389.2 1469.2L1390.1 1468.6L1391.0 1469.8L1391.9 1469.7L1392.8 1466.9L1393.7 1469.1L1394.6 1467.2L1395.5 1468.4L1396.4 1467.2L1397.3 1467.3L1398.2 1467.4L1399.1 1468.3L1400.0 1468.7L1400.9 1468.3L1401.8 1467.6L1402.7 1469.0L1403.6 1468.5L1404.5 1467.7L1405.4 1469.5L1406.3 1467.2L1407.2 1465.4L1408.1 1465.6L1409.0 1460.8L1409.9 1454.7L1410.8 1450.3L1411.7 1446.9L1412.1 1444.4L1412.6 1444.3L1413.0 1443.8L1413.5 1447.0L1414.4 1446.6L1415.3 1451.0L1416.2 1456.7L1417.1 1455.2L1418.0 1450.0L1418.9 1441.8L1419.8 1427.9L1420.7 1410.3L1421.1 1405.3L1421.6 1403.1L1422.0 1407.0L1422.5 1417.2L1423.4 1438.6L1424.3 1451.6L1425.2 1450.6L1426.1 1446.8L1427.0 1448.3L1427.9 1453.9L1428.8 1462.9L1429.7 1465.1L1430.6 1463.4L1431.5 1461.4L1432.4 1442.8L1433.3 1357.2L1433.6 1308.2L1434.1 1275.0L1434.5 1290.0L1435.1 1335.6L1436.0 1408.0L1436.9 1442.3L1437.8 1439.2L1438.7 1395.5L1439.6 1392.6L1440.5 1427.0L1441.4 1451.4L1442.3 1464.1L1443.2 1464.6L1444.1 1466.0L1445.0 1466.4L1445.9 1467.5L1446.8 1465.6L1447.7 1468.7L1448.6 1469.8L1449.5 1468.0L1450.4 1468.4L1451.3 1468.1L1452.2 1468.5L1453.1 1468.0L1454.0 1468.7L1454.9 1471.6L1455.8 1468.7L1456.7 1470.2L1457.6 1471.7L1458.5 1469.7L1459.4 1468.9L1460.3 1468.1L1461.2 1467.5L1462.1 1467.0L1463.0 1466.3L1463.9 1465.2L1464.8 1464.6L1465.7 1460.5L1466.6 1452.8L1467.5 1441.4L1468.4 1426.3L1469.3 1408.3L1469.8 1402.9L1470.2 1400.5L1470.7 1402.7L1471.1 1406.5L1472.0 1421.5L1472.9 1430.5L1473.8 1431.4L1474.7 1429.9L1475.6 1430.4L1476.5 1440.1L1477.4 1447.9L1478.3 1455.6L1479.2 1463.0L1480.1 1467.1L1481.0 1465.5L1481.9 1465.3L1482.8 1467.1L1483.7 1467.3L1484.6 1469.1L1485.5 1464.5L1486.4 1466.2L1487.3 1466.9L1488.2 1461.6L1489.1 1460.2L1490.0 1454.4L1490.9 1443.7L1491.8 1432.3L1492.2 1426.7L1492.7 1425.1L1493.2 1426.5L1493.6 1429.8L1494.5 1440.9L1495.4 1443.5L1496.3 1447.7L1497.2 1446.8L1498.1 1445.0L1499.0 1450.3L1499.9 1460.2L1500.8 1462.3L1501.7 1464.6L1502.6 1468.0L1503.5 1469.4L1504.4 1469.4L1505.3 1466.5L1506.2 1470.3L1507.1 1470.6L1508.0 1469.4L1508.9 1469.3L1509.8 1468.5L1510.7 1470.2L1511.6 1472.2L1512.5 1472.3L1513.4 1472.2L1514.3 1472.2L1515.2 1472.5L1516.1 1471.9L1517.0 1470.2L1517.9 1472.1L1518.8 1470.3L1519.7 1470.7L1520.6 1472.9L1521.5 1469.5L1522.4 1474.2L1523.3 1472.3L1524.2 1470.6L1525.1 1471.9L1526.0 1471.5L1526.9 1472.8L1527.8 1474.3L1528.7 1473.0L1529.6 1472.3L1530.5 1472.5L1531.4 1474.2L1532.3 1472.2L1533.2 1472.8L1534.1 1474.2L1535.0 1471.5L1535.9 1473.3L1536.8 1474.4L1537.7 1475.0L1538.6 1472.5L1539.5 1471.6L1540.4 1472.5L1541.3 1472.1L1542.2 1474.3L1543.1 1472.6L1544.0 1472.2L1544.9 1473.4L1545.8 1472.5L1546.7 1472.6L1547.6 1473.1L1548.5 1473.1L1549.4 1472.7L1550.3 1472.9L1551.2 1472.5L1552.1 1469.8L1553.0 1473.2L1553.9 1469.5L1554.8 1475.0L1555.7 1471.0L1556.6 1473.4L1557.5 1472.6L1558.4 1473.0L1559.3 1473.1L1560.2 1473.1L1561.1 1473.0L1562.0 1473.6L1562.9 1472.8L1563.8 1473.9L1564.7 1472.4L1565.6 1473.6L1566.5 1472.8L1567.4 1473.7L1568.3 1473.1L1569.2 1473.0L1570.1 1473.6L1571.0 1474.2L1571.9 1473.1L1572.8 1475.9L1573.7 1475.0L1574.6 1471.6L1575.5 1472.0L1576.4 1474.2L1577.3 1473.7L1578.2 1472.6L1579.1 1471.8L1580.0 1475.4L1580.9 1474.9L1581.8 1473.4L1582.7 1472.7L1583.6 1474.9L1584.5 1475.2L1585.4 1476.3L1586.3 1473.2L1587.2 1473.7L1588.1 1473.0L1589.0 1474.5L1589.9 1471.4L1590.8 1474.0L1591.7 1476.7L1592.6 1473.6L1593.5 1473.0L1594.4 1473.2L1595.3 1472.1L1596.2 1472.1L1597.1 1473.5L1598.0 1474.3L1598.9 1472.8L1599.8 1472.9L1600.7 1473.6L1601.6 1472.2L1602.5 1470.2L1603.4 1473.2L1604.3 1473.1L1605.2 1472.0L1606.1 1472.0L1607.0 1473.7L1607.9 1473.8L1608.8 1474.0L1609.7 1470.1L1610.6 1472.0L1611.5 1474.1L1612.4 1472.3L1613.3 1469.5L1614.2 1469.7L1615.1 1471.2L1616.0 1470.5L1616.9 1467.7L1617.8 1466.0L1618.7 1461.0L1619.6 1460.2L1620.5 1449.7L1621.4 1438.9L1622.3 1424.1L1623.2 1407.2L1624.3 1395.5L1624.8 1393.8L1625.2 1395.1L1625.9 1401.3L1626.8 1410.6L1627.7 1417.7L1628.6 1421.9L1629.5 1423.5L1630.4 1428.4L1631.3 1433.8L1632.2 1443.7L1633.1 1450.5L1634.0 1458.4L1634.9 1464.6L1635.8 1467.9L1636.7 1468.0L1637.6 1470.6L1638.5 1472.9L1639.4 1473.0L1640.3 1474.6L1641.2 1474.2L1642.1 1474.4L1643.0 1473.8L1643.9 1474.2L1644.8 1475.2L1645.7 1474.3L1646.6 1475.2L1647.5 1478.9L1648.4 1474.6L1649.3 1476.4L1650.2 1475.4L1651.1 1477.5L1652.0 1475.4L1652.9 1475.3L1653.8 1476.1"/>
</g>
<rect x="211.1" y="37.9" width="1443.5" height="1522.6" fill="none" stroke="#000" stroke-width="5.4" stroke-linejoin="round"/>
<path d="M355.4 1560.5 V1538.0M499.8 1560.5 V1518.0M644.1 1560.5 V1538.0M788.5 1560.5 V1518.0M932.9 1560.5 V1538.0M1077.2 1560.5 V1518.0M1221.5 1560.5 V1538.0M1365.9 1560.5 V1518.0M1510.2 1560.5 V1538.0" stroke="#000" stroke-width="5.2" fill="none"/>
<circle cx="518.7" cy="150.5" r="18.7" fill="#000"/>
<circle cx="558.3" cy="283.3" r="18.7" fill="#000"/>
<circle cx="903.6" cy="385.6" r="18.7" fill="#000"/>
<circle cx="933.7" cy="438.3" r="18.7" fill="#000"/>
<circle cx="1232.6" cy="544.7" r="18.7" fill="#000"/>
<circle cx="1441.1" cy="546.9" r="18.7" fill="#000"/>
<circle cx="1476.6" cy="355.6" r="18.7" fill="#000"/>
<circle cx="1502.4" cy="551.4" r="18.7" fill="#000"/>
<circle cx="664.0" cy="154.0" r="18.7" fill="#000"/>
<path d="M632.8 540.5 L651.1 563.7 L632.8 586.9 L614.5 563.7 Z" fill="#000"/>
<path d="M720.6 496.0 L738.9 519.2 L720.6 542.4 L702.3 519.2 Z" fill="#000"/>
<path d="M775.6 368.2 L793.9 391.4 L775.6 414.6 L757.3 391.4 Z" fill="#000"/>
<path d="M1135.6 590.2 L1153.9 613.4 L1135.6 636.6 L1117.3 613.4 Z" fill="#000"/>
<path d="M1417.2 600.6 L1435.5 623.8 L1417.2 647.0 L1398.9 623.8 Z" fill="#000"/>
<path d="M1630.4 582.1 L1648.7 605.3 L1630.4 628.5 L1612.1 605.3 Z" fill="#000"/>
<path d="M1154.8 132.4 L1173.1 155.6 L1154.8 178.8 L1136.5 155.6 Z" fill="#000"/>
<g font-family="'Liberation Serif', 'Times New Roman', serif" font-size="74" fill="#000" text-anchor="middle">
<text x="211.1" y="1659.5">20</text>
<text x="499.8" y="1659.5">30</text>
<text x="788.5" y="1659.5">40</text>
<text x="1077.2" y="1659.5">50</text>
<text x="1365.9" y="1659.5">60</text>
<text x="1654.6" y="1659.5">70</text>
</g>
<text x="932.5" y="1796" font-family="'Liberation Serif', 'Times New Roman', serif" font-size="83" fill="#000" text-anchor="middle">2θ/degree</text>
<text transform="translate(102 851.5) rotate(-90)" font-family="'Liberation Serif', 'Times New Roman', serif" font-size="82.5" fill="#000" text-anchor="middle">Intensity/a.u.</text>
<text transform="translate(241.5 565.7) scale(1 1.04)" font-family="'Liberation Sans', Arial, sans-serif" font-size="62" fill="#000">Ag<tspan font-size="37" dy="21.6">20</tspan><tspan dy="-21.6">Sn</tspan><tspan font-size="37" dy="21.6">80</tspan></text>
<text transform="translate(241.5 951.2) scale(1 1.04)" font-family="'Liberation Sans', Arial, sans-serif" font-size="62" fill="#000">Ag<tspan font-size="37" dy="21.6">30</tspan><tspan dy="-21.6">Sn</tspan><tspan font-size="37" dy="21.6">70</tspan></text>
<text transform="translate(241.5 1321.6) scale(1 1.04)" font-family="'Liberation Sans', Arial, sans-serif" font-size="62" fill="#000">Ag<tspan font-size="37" dy="21.6">40</tspan><tspan dy="-21.6">Sn</tspan><tspan font-size="37" dy="21.6">60</tspan></text>
<text transform="translate(716.0 172.8) scale(1 1.04)" font-family="'Liberation Sans', Arial, sans-serif" font-size="62.4" fill="#000">Sn: 04-0673</text>
<text transform="translate(1198.5 173.5) scale(1 1.04)" font-family="'Liberation Sans', Arial, sans-serif" font-size="62" fill="#000">Ag<tspan font-size="37" dy="21.6">3</tspan><tspan dy="-21.6">Sn: 04-0800</tspan></text>
</g>
</svg>
</body></html>
